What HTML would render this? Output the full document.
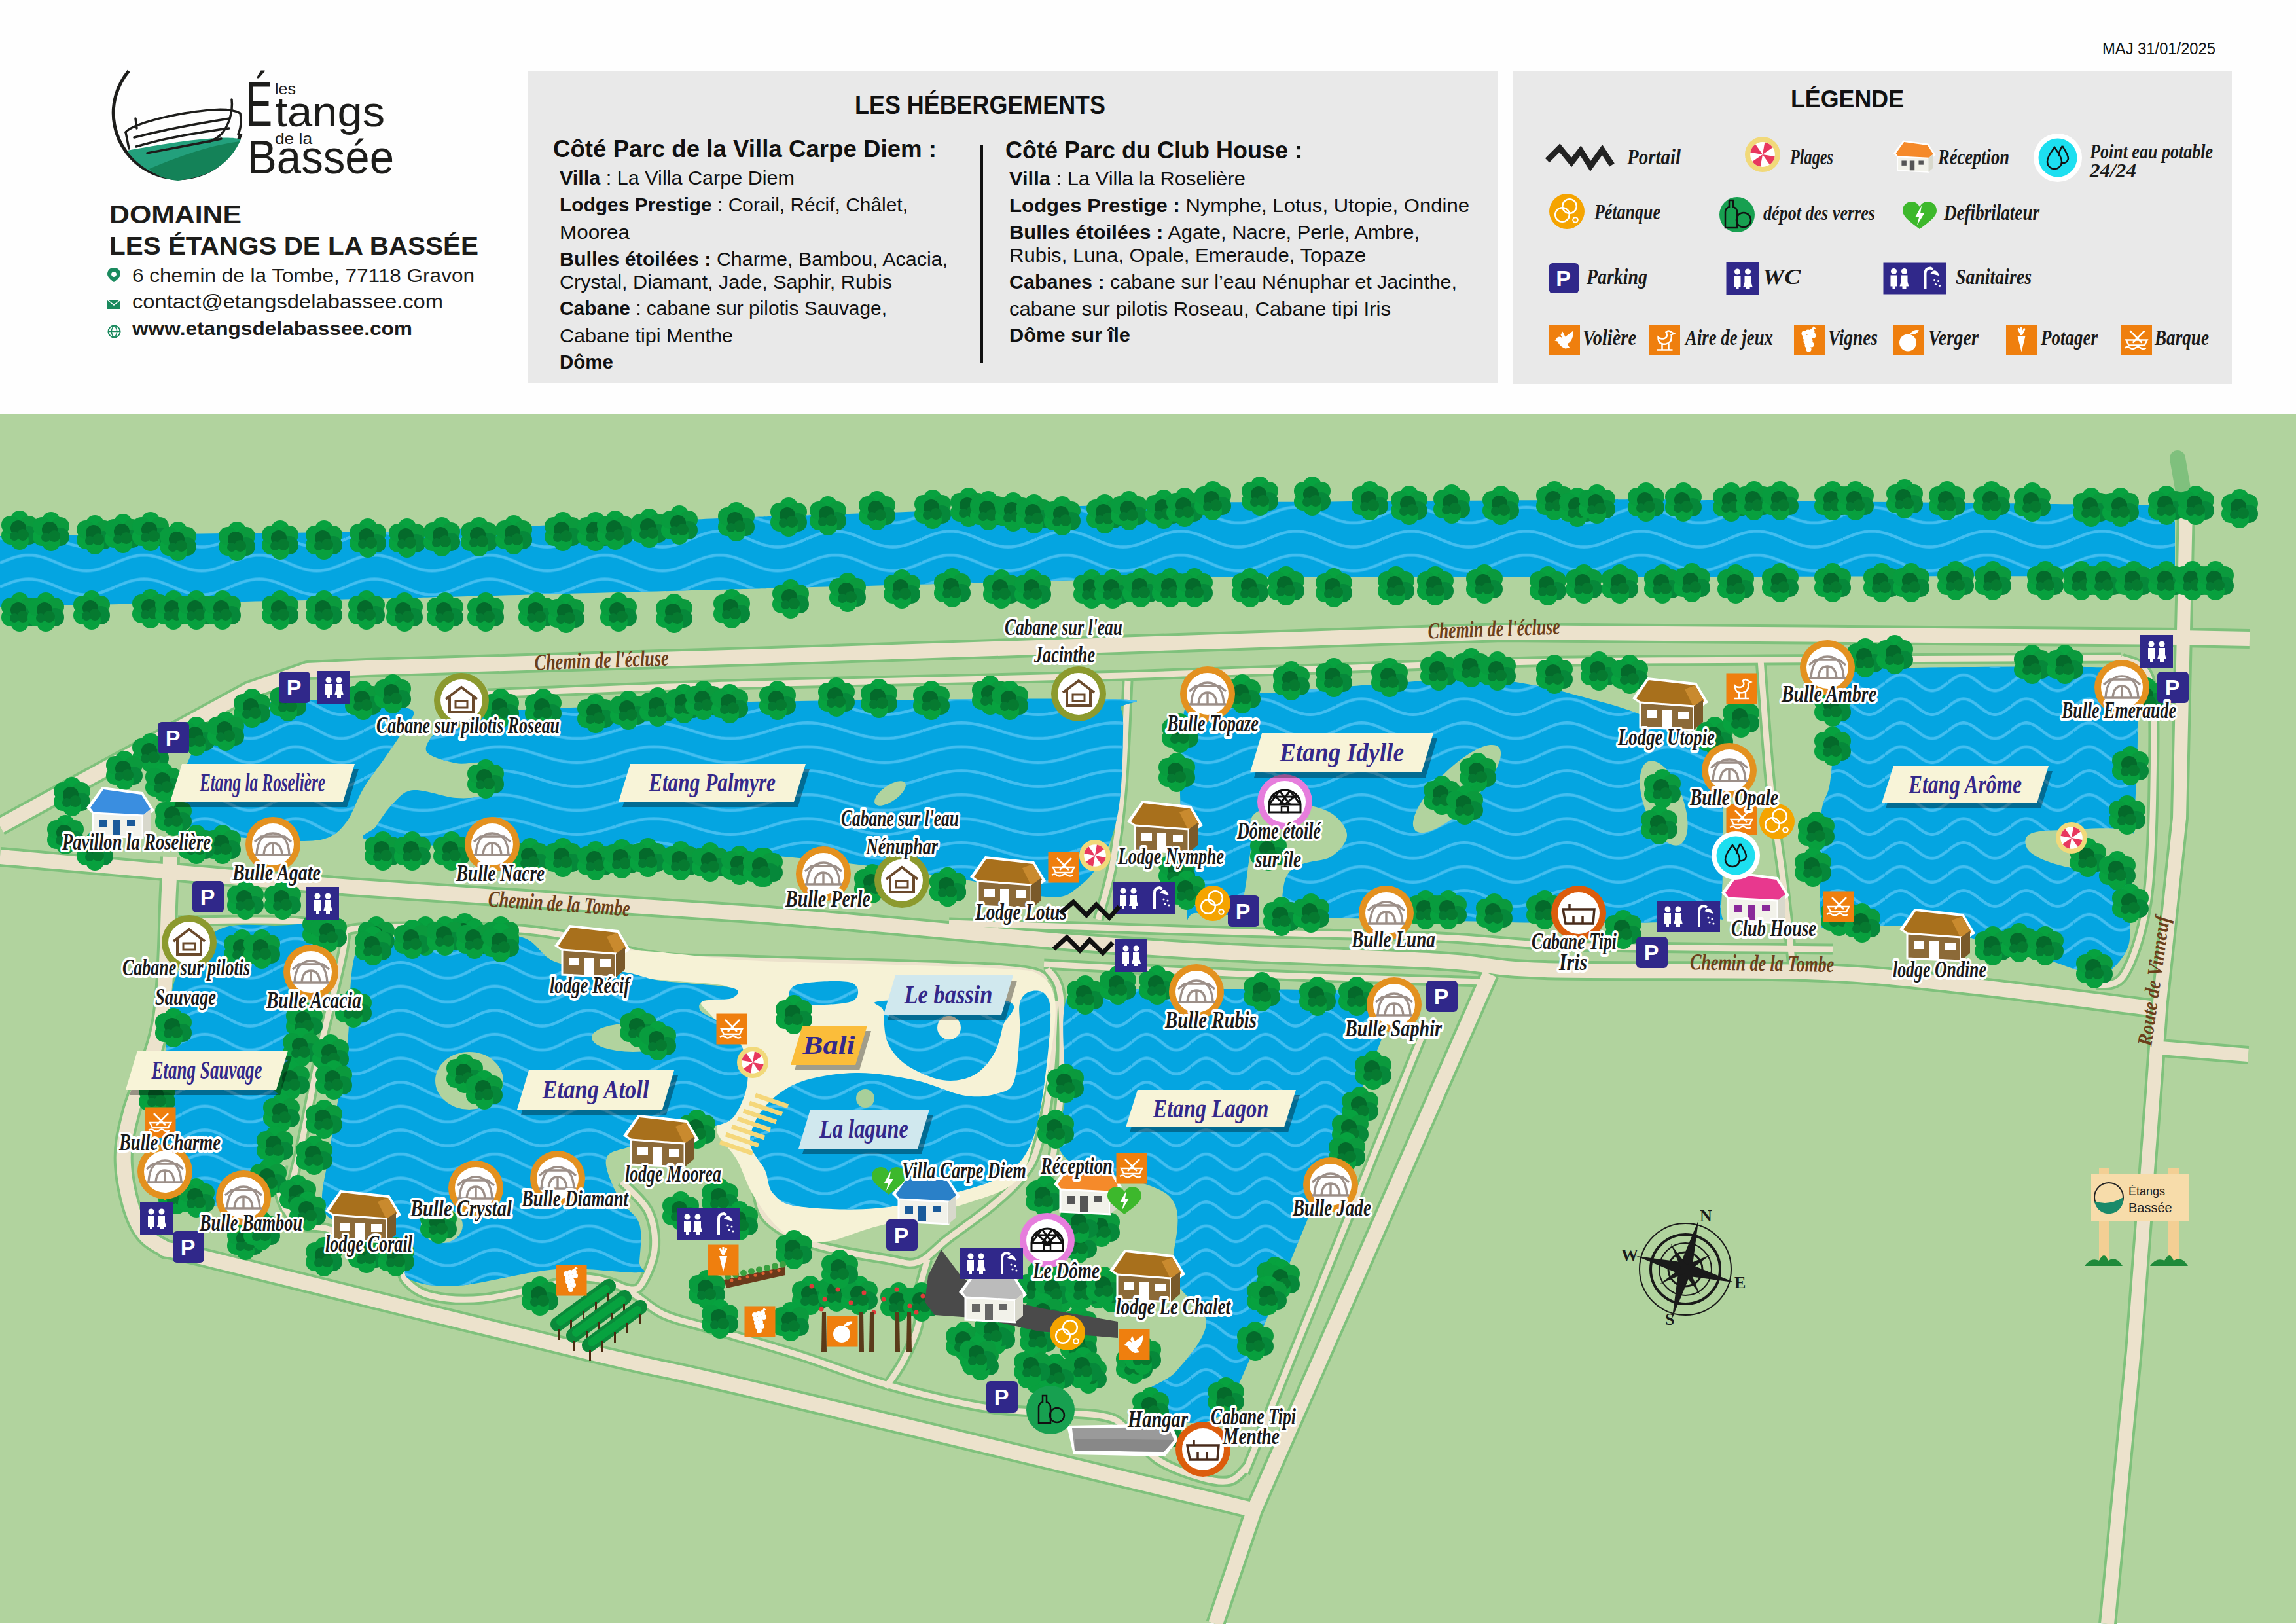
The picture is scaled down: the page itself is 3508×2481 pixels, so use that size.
<!DOCTYPE html>
<html><head><meta charset="utf-8"><title>Plan - Les Etangs de la Bassee</title>
<style>
html,body{margin:0;padding:0;background:#fefefe;}
body{width:3508px;height:2481px;overflow:hidden;position:relative;}
svg{display:block;position:absolute;left:0;top:0;}
.sans{font-family:"Liberation Sans",sans-serif;}
.scr{font-family:"Liberation Serif",serif;font-style:italic;font-weight:bold;}
</style></head><body>
<svg xmlns="http://www.w3.org/2000/svg" xmlns:xlink="http://www.w3.org/1999/xlink" width="3508" height="2481" viewBox="0 0 3508 2481">
<defs>
<pattern id="wv_river" patternUnits="userSpaceOnUse" width="176" height="36.6"><path d="M0.00,18.30 L5.50,15.96 L11.00,13.71 L16.50,11.63 L22.00,9.81 L27.50,8.32 L33.00,7.21 L38.50,6.53 L44.00,6.30 L49.50,6.53 L55.00,7.21 L60.50,8.32 L66.00,9.81 L71.50,11.63 L77.00,13.71 L82.50,15.96 L88.00,18.30 L93.50,20.64 L99.00,22.89 L104.50,24.97 L110.00,26.79 L115.50,28.28 L121.00,29.39 L126.50,30.07 L132.00,30.30 L137.50,30.07 L143.00,29.39 L148.50,28.28 L154.00,26.79 L159.50,24.97 L165.00,22.89 L170.50,20.64 L176.00,18.30" fill="none" stroke="#43bef0" stroke-width="4.5" stroke-linejoin="round"/></pattern><pattern id="wv_ros" patternUnits="userSpaceOnUse" width="139" height="36.6"><path d="M0.00,18.30 L4.34,15.96 L8.69,13.71 L13.03,11.63 L17.38,9.81 L21.72,8.32 L26.06,7.21 L30.41,6.53 L34.75,6.30 L39.09,6.53 L43.44,7.21 L47.78,8.32 L52.12,9.81 L56.47,11.63 L60.81,13.71 L65.16,15.96 L69.50,18.30 L73.84,20.64 L78.19,22.89 L82.53,24.97 L86.88,26.79 L91.22,28.28 L95.56,29.39 L99.91,30.07 L104.25,30.30 L108.59,30.07 L112.94,29.39 L117.28,28.28 L121.62,26.79 L125.97,24.97 L130.31,22.89 L134.66,20.64 L139.00,18.30" fill="none" stroke="#43bef0" stroke-width="4.5" stroke-linejoin="round"/></pattern><pattern id="wv_pal" patternUnits="userSpaceOnUse" width="235" height="36.6"><path d="M0.00,18.30 L7.34,15.96 L14.69,13.71 L22.03,11.63 L29.38,9.81 L36.72,8.32 L44.06,7.21 L51.41,6.53 L58.75,6.30 L66.09,6.53 L73.44,7.21 L80.78,8.32 L88.12,9.81 L95.47,11.63 L102.81,13.71 L110.16,15.96 L117.50,18.30 L124.84,20.64 L132.19,22.89 L139.53,24.97 L146.88,26.79 L154.22,28.28 L161.56,29.39 L168.91,30.07 L176.25,30.30 L183.59,30.07 L190.94,29.39 L198.28,28.28 L205.62,26.79 L212.97,24.97 L220.31,22.89 L227.66,20.64 L235.00,18.30" fill="none" stroke="#43bef0" stroke-width="4.5" stroke-linejoin="round"/></pattern><pattern id="wv_idy" patternUnits="userSpaceOnUse" width="157" height="36.6"><path d="M0.00,18.30 L4.91,15.96 L9.81,13.71 L14.72,11.63 L19.62,9.81 L24.53,8.32 L29.44,7.21 L34.34,6.53 L39.25,6.30 L44.16,6.53 L49.06,7.21 L53.97,8.32 L58.88,9.81 L63.78,11.63 L68.69,13.71 L73.59,15.96 L78.50,18.30 L83.41,20.64 L88.31,22.89 L93.22,24.97 L98.12,26.79 L103.03,28.28 L107.94,29.39 L112.84,30.07 L117.75,30.30 L122.66,30.07 L127.56,29.39 L132.47,28.28 L137.38,26.79 L142.28,24.97 L147.19,22.89 L152.09,20.64 L157.00,18.30" fill="none" stroke="#43bef0" stroke-width="4.5" stroke-linejoin="round"/></pattern><pattern id="wv_aro" patternUnits="userSpaceOnUse" width="96" height="36.6"><path d="M0.00,18.30 L3.00,15.96 L6.00,13.71 L9.00,11.63 L12.00,9.81 L15.00,8.32 L18.00,7.21 L21.00,6.53 L24.00,6.30 L27.00,6.53 L30.00,7.21 L33.00,8.32 L36.00,9.81 L39.00,11.63 L42.00,13.71 L45.00,15.96 L48.00,18.30 L51.00,20.64 L54.00,22.89 L57.00,24.97 L60.00,26.79 L63.00,28.28 L66.00,29.39 L69.00,30.07 L72.00,30.30 L75.00,30.07 L78.00,29.39 L81.00,28.28 L84.00,26.79 L87.00,24.97 L90.00,22.89 L93.00,20.64 L96.00,18.30" fill="none" stroke="#43bef0" stroke-width="4.5" stroke-linejoin="round"/></pattern><pattern id="wv_sau" patternUnits="userSpaceOnUse" width="139" height="36.6"><path d="M0.00,18.30 L4.34,15.96 L8.69,13.71 L13.03,11.63 L17.38,9.81 L21.72,8.32 L26.06,7.21 L30.41,6.53 L34.75,6.30 L39.09,6.53 L43.44,7.21 L47.78,8.32 L52.12,9.81 L56.47,11.63 L60.81,13.71 L65.16,15.96 L69.50,18.30 L73.84,20.64 L78.19,22.89 L82.53,24.97 L86.88,26.79 L91.22,28.28 L95.56,29.39 L99.91,30.07 L104.25,30.30 L108.59,30.07 L112.94,29.39 L117.28,28.28 L121.62,26.79 L125.97,24.97 L130.31,22.89 L134.66,20.64 L139.00,18.30" fill="none" stroke="#43bef0" stroke-width="4.5" stroke-linejoin="round"/></pattern><pattern id="wv_ato" patternUnits="userSpaceOnUse" width="144" height="36.6"><path d="M0.00,18.30 L4.50,15.96 L9.00,13.71 L13.50,11.63 L18.00,9.81 L22.50,8.32 L27.00,7.21 L31.50,6.53 L36.00,6.30 L40.50,6.53 L45.00,7.21 L49.50,8.32 L54.00,9.81 L58.50,11.63 L63.00,13.71 L67.50,15.96 L72.00,18.30 L76.50,20.64 L81.00,22.89 L85.50,24.97 L90.00,26.79 L94.50,28.28 L99.00,29.39 L103.50,30.07 L108.00,30.30 L112.50,30.07 L117.00,29.39 L121.50,28.28 L126.00,26.79 L130.50,24.97 L135.00,22.89 L139.50,20.64 L144.00,18.30" fill="none" stroke="#43bef0" stroke-width="4.5" stroke-linejoin="round"/></pattern><pattern id="wv_lag" patternUnits="userSpaceOnUse" width="144" height="36.6"><path d="M0.00,18.30 L4.50,15.96 L9.00,13.71 L13.50,11.63 L18.00,9.81 L22.50,8.32 L27.00,7.21 L31.50,6.53 L36.00,6.30 L40.50,6.53 L45.00,7.21 L49.50,8.32 L54.00,9.81 L58.50,11.63 L63.00,13.71 L67.50,15.96 L72.00,18.30 L76.50,20.64 L81.00,22.89 L85.50,24.97 L90.00,26.79 L94.50,28.28 L99.00,29.39 L103.50,30.07 L108.00,30.30 L112.50,30.07 L117.00,29.39 L121.50,28.28 L126.00,26.79 L130.50,24.97 L135.00,22.89 L139.50,20.64 L144.00,18.30" fill="none" stroke="#43bef0" stroke-width="4.5" stroke-linejoin="round"/></pattern><pattern id="wv_lgn" patternUnits="userSpaceOnUse" width="91" height="36.6"><path d="M0.00,18.30 L2.84,15.96 L5.69,13.71 L8.53,11.63 L11.38,9.81 L14.22,8.32 L17.06,7.21 L19.91,6.53 L22.75,6.30 L25.59,6.53 L28.44,7.21 L31.28,8.32 L34.12,9.81 L36.97,11.63 L39.81,13.71 L42.66,15.96 L45.50,18.30 L48.34,20.64 L51.19,22.89 L54.03,24.97 L56.88,26.79 L59.72,28.28 L62.56,29.39 L65.41,30.07 L68.25,30.30 L71.09,30.07 L73.94,29.39 L76.78,28.28 L79.62,26.79 L82.47,24.97 L85.31,22.89 L88.16,20.64 L91.00,18.30" fill="none" stroke="#43bef0" stroke-width="4.5" stroke-linejoin="round"/></pattern>
<g id="tr">
<circle cx="0" cy="-16" r="14" fill="#07a23f"/>
<circle cx="14" cy="-8" r="14" fill="#0b9a3d"/>
<circle cx="14" cy="8" r="14" fill="#06883a"/>
<circle cx="0" cy="16" r="14" fill="#08a03e"/>
<circle cx="-14" cy="8" r="14" fill="#07a23f"/>
<circle cx="-14" cy="-8" r="14" fill="#089c3e"/>
<circle cx="-2" cy="-3" r="12" fill="#046a2b"/>
<circle cx="5" cy="7" r="9" fill="#067a30"/>
<circle cx="-8" cy="9" r="7" fill="#057a32"/>
</g>
</defs>
<rect x="0" y="0" width="3508" height="632" fill="#fefefe"/>
<!-- logo -->
<g id="logo">
<path d="M196.7 108.3 A100 100 0 1 0 368 204.6" fill="none" stroke="#1d1d1b" stroke-width="5"/>
<path d="M194 230 C230 224 280 214 330 211 C350 210 362 211 368 213 A100 100 0 0 1 194 230 Z" fill="#23a07c"/>
<path d="M228 258 C270 240 320 222 366 216 C352 248 322 270 272 276 C252 274 238 268 228 258 Z" fill="#148258"/>
<g fill="none" stroke="#1d1d1b" stroke-width="3.5" stroke-linecap="round" stroke-linejoin="round">
<path d="M192 202 C200 192 240 180 282 173 C320 167 350 164 367 173 C369 185 368 196 364 205"/>
<path d="M192 202 L197 227"/>
<path d="M207 181 L209 196"/>
<path d="M354 152 C356 170 350 192 338 205 C332 211 326 214 321 216"/>
<path d="M205 210 C240 201 280 192 351 181"/>
<path d="M208 224 C240 215 270 207 350 196"/>
<path d="M225 234 C250 229 290 222 338 212"/>
</g>
<text class="sans" x="376" y="193" font-size="98" fill="#1d1d1b" textLength="40" lengthAdjust="spacingAndGlyphs">É</text>
<text class="sans" x="420" y="193" font-size="64" fill="#1d1d1b" textLength="168" lengthAdjust="spacingAndGlyphs">tangs</text>
<text class="sans" x="420" y="144" font-size="24" fill="#1d1d1b" textLength="32" lengthAdjust="spacingAndGlyphs">les</text>
<text class="sans" x="420" y="220" font-size="24" fill="#1d1d1b" textLength="57" lengthAdjust="spacingAndGlyphs">de la</text>
<text class="sans" x="378" y="265" font-size="72" fill="#1d1d1b" textLength="224" lengthAdjust="spacingAndGlyphs">Bassée</text>
</g>
<g class="sans" fill="#1d1d1b">
<text x="167" y="341" font-size="38" font-weight="bold" textLength="202" lengthAdjust="spacingAndGlyphs">DOMAINE</text>
<text x="167" y="389" font-size="38" font-weight="bold" textLength="564" lengthAdjust="spacingAndGlyphs">LES ÉTANGS DE LA BASSÉE</text>
<text x="202" y="431" font-size="29" textLength="523" lengthAdjust="spacingAndGlyphs">6 chemin de la Tombe, 77118 Gravon</text>
<text x="202" y="471" font-size="29" textLength="475" lengthAdjust="spacingAndGlyphs">contact@etangsdelabassee.com</text>
<text x="202" y="512" font-size="29" font-weight="bold" textLength="428" lengthAdjust="spacingAndGlyphs">www.etangsdelabassee.com</text>
</g>
<g fill="#1a8a5e">
<path d="M174 409 C166 409 164 415 164 419 C164 424 174 431 174 431 C174 431 184 424 184 419 C184 415 182 409 174 409 Z M174 415 A4 4 0 1 0 174.01 415 Z" fill-rule="evenodd"/>
<rect x="164" y="458" width="20" height="14"/>
<path d="M164 458 L174 466 L184 458" stroke="#fff" stroke-width="1.5" fill="none"/>
<circle cx="174.5" cy="506.5" r="9" fill="none" stroke="#1a8a5e" stroke-width="2"/>
<path d="M165.5 506.5 H183.5 M174.5 497.5 C169 502 169 511 174.5 515.5 C180 511 180 502 174.5 497.5" fill="none" stroke="#1a8a5e" stroke-width="1.5"/>
</g>
<text class="sans" x="3212" y="83" font-size="26" fill="#111" textLength="173" lengthAdjust="spacingAndGlyphs">MAJ 31/01/2025</text>
<!-- box 1 -->
<rect x="807" y="109" width="1481" height="476" fill="#e9e9e9"/>
<g class="sans" fill="#111">
<text x="1306" y="173.5" font-size="40" font-weight="bold" textLength="383" lengthAdjust="spacingAndGlyphs">LES HÉBERGEMENTS</text>
<text x="845" y="239.5" font-size="36" font-weight="bold" textLength="586" lengthAdjust="spacingAndGlyphs">Côté Parc de la Villa Carpe Diem :</text>
<g font-size="30">
<text x="855" y="282" textLength="359" lengthAdjust="spacingAndGlyphs"><tspan font-weight="bold">Villa</tspan> : La Villa Carpe Diem</text>
<text x="855" y="323" textLength="532" lengthAdjust="spacingAndGlyphs"><tspan font-weight="bold">Lodges Prestige</tspan> : Corail, Récif, Châlet,</text>
<text x="855" y="364.5" textLength="107" lengthAdjust="spacingAndGlyphs">Moorea</text>
<text x="855" y="405.5" textLength="593" lengthAdjust="spacingAndGlyphs"><tspan font-weight="bold">Bulles étoilées :</tspan> Charme, Bambou, Acacia,</text>
<text x="855" y="441" textLength="508" lengthAdjust="spacingAndGlyphs">Crystal, Diamant, Jade, Saphir, Rubis</text>
<text x="855" y="481" textLength="500" lengthAdjust="spacingAndGlyphs"><tspan font-weight="bold">Cabane</tspan> : cabane sur pilotis Sauvage,</text>
<text x="855" y="523" textLength="265" lengthAdjust="spacingAndGlyphs">Cabane tipi Menthe</text>
<text x="855" y="563" font-weight="bold" textLength="82" lengthAdjust="spacingAndGlyphs">Dôme</text>
</g>
<rect x="1498" y="222" width="4" height="333"/>
<text x="1536" y="241.5" font-size="36" font-weight="bold" textLength="454" lengthAdjust="spacingAndGlyphs">Côté Parc du Club House :</text>
<g font-size="30">
<text x="1542" y="283" textLength="361" lengthAdjust="spacingAndGlyphs"><tspan font-weight="bold">Villa</tspan> : La Villa la Roselière</text>
<text x="1542" y="324" textLength="703" lengthAdjust="spacingAndGlyphs"><tspan font-weight="bold">Lodges Prestige :</tspan> Nymphe, Lotus, Utopie, Ondine</text>
<text x="1542" y="365" textLength="627" lengthAdjust="spacingAndGlyphs"><tspan font-weight="bold">Bulles étoilées :</tspan> Agate, Nacre, Perle, Ambre,</text>
<text x="1542" y="400" textLength="545" lengthAdjust="spacingAndGlyphs">Rubis, Luna, Opale, Emeraude, Topaze</text>
<text x="1542" y="441" textLength="684" lengthAdjust="spacingAndGlyphs"><tspan font-weight="bold">Cabanes :</tspan> cabane sur l’eau Nénuphar et Jacinthe,</text>
<text x="1542" y="482" textLength="583" lengthAdjust="spacingAndGlyphs">cabane sur pilotis Roseau, Cabane tipi Iris</text>
<text x="1542" y="522" font-weight="bold" textLength="185" lengthAdjust="spacingAndGlyphs">Dôme sur île</text>
</g>
</g>
<!-- legend -->
<rect x="2312" y="109" width="1098" height="477" fill="#e9e9e9"/>
<text class="sans" x="2736" y="163.7" font-size="37" font-weight="bold" fill="#111" textLength="173" lengthAdjust="spacingAndGlyphs">LÉGENDE</text>
<rect x="0" y="632" width="3508" height="1848" fill="#b1d39e"/>
<path d="M3327,700 L3340,775" stroke="#7fc07d" stroke-width="24" stroke-linecap="round"/>
<path d="M0.0,819.0 C0.0,819.0 600.0,812.0 600.0,812.0 C600.0,812.0 1175.0,789.0 1175.0,789.0 C1175.0,789.0 1800.0,768.0 1800.0,768.0 C1800.0,768.0 2519.0,763.0 2519.0,763.0 C2519.0,763.0 3323.0,772.0 3323.0,772.0 C3323.0,772.0 3323.0,880.0 3323.0,880.0 C3323.0,880.0 2519.0,881.0 2519.0,881.0 C2519.0,881.0 1800.0,882.0 1800.0,882.0 C1800.0,882.0 1175.0,899.0 1175.0,899.0 C1175.0,899.0 600.0,914.0 600.0,914.0 C600.0,914.0 0.0,927.0 0.0,927.0 C0.0,927.0 0.0,819.0 0.0,819.0Z" fill="#04a5e1"/>
<path d="M0.0,819.0 C0.0,819.0 600.0,812.0 600.0,812.0 C600.0,812.0 1175.0,789.0 1175.0,789.0 C1175.0,789.0 1800.0,768.0 1800.0,768.0 C1800.0,768.0 2519.0,763.0 2519.0,763.0 C2519.0,763.0 3323.0,772.0 3323.0,772.0 C3323.0,772.0 3323.0,880.0 3323.0,880.0 C3323.0,880.0 2519.0,881.0 2519.0,881.0 C2519.0,881.0 1800.0,882.0 1800.0,882.0 C1800.0,882.0 1175.0,899.0 1175.0,899.0 C1175.0,899.0 600.0,914.0 600.0,914.0 C600.0,914.0 0.0,927.0 0.0,927.0 C0.0,927.0 0.0,819.0 0.0,819.0Z" fill="url(#wv_river)"/>
<path d="M0.0,1262.0 C0.0,1262.0 380.0,1055.0 380.0,1055.0 C380.0,1055.0 470.0,1024.0 470.0,1024.0 C470.0,1024.0 560.0,1020.0 560.0,1020.0 C560.0,1020.0 1148.0,1003.0 1148.0,1003.0 C1148.0,1003.0 2296.0,966.0 2296.0,966.0 C2296.0,966.0 3330.0,974.0 3330.0,974.0 C3330.0,974.0 3437.0,976.0 3437.0,976.0" fill="none" stroke="#7fc17c" stroke-width="30" stroke-linejoin="round"/>
<path d="M0.0,1309.0 C91.7,1316.8 358.7,1341.5 550.0,1356.0 C741.3,1370.5 964.7,1382.0 1148.0,1396.0 C1331.3,1410.0 1524.7,1430.0 1650.0,1440.0 C1775.3,1450.0 1808.3,1451.3 1900.0,1456.0 C1991.7,1460.7 2123.3,1463.7 2200.0,1468.0 C2276.7,1472.3 2266.7,1479.2 2360.0,1482.0 C2453.3,1484.8 2653.3,1481.2 2760.0,1485.0 C2866.7,1488.8 2912.5,1495.8 3000.0,1505.0 C3087.5,1514.2 3237.5,1534.2 3285.0,1540.0" fill="none" stroke="#7fc17c" stroke-width="30" stroke-linejoin="round"/>
<path d="M3340.0,775.0 C3340.0,775.0 3330.0,1250.0 3330.0,1250.0 C3330.0,1250.0 3300.0,1530.0 3300.0,1530.0 C3300.0,1530.0 3290.0,1669.0 3290.0,1669.0 C3290.0,1669.0 3260.0,2064.0 3260.0,2064.0 C3260.0,2064.0 3220.0,2481.0 3220.0,2481.0" fill="none" stroke="#7fc17c" stroke-width="28" stroke-linejoin="round"/>
<path d="M3290,1600 L3435,1612" fill="none" stroke="#7fc17c" stroke-width="28" stroke-linejoin="round"/>
<path d="M260.0,1309.0 C259.7,1317.5 260.3,1318.2 258.0,1360.0 C255.7,1401.8 255.7,1503.3 246.0,1560.0 C236.3,1616.7 209.5,1663.3 200.0,1700.0 C190.5,1736.7 187.5,1752.3 189.0,1780.0 C190.5,1807.7 199.2,1845.2 209.0,1866.0 C218.8,1886.8 228.5,1895.2 248.0,1905.0 C267.5,1914.8 217.3,1898.2 326.0,1925.0 C434.7,1951.8 763.0,2033.2 900.0,2066.0 C1037.0,2098.8 978.7,2081.8 1148.0,2122.0 C1317.3,2162.2 1788.0,2276.2 1916.0,2307.0" fill="none" stroke="#7fc17c" stroke-width="30" stroke-linejoin="round"/>
<path d="M2276.0,1488.0 C2276.0,1488.0 1916.0,2307.0 1916.0,2307.0 C1916.0,2307.0 1857.0,2481.0 1857.0,2481.0" fill="none" stroke="#7fc17c" stroke-width="30" stroke-linejoin="round"/>
<path d="M745.0,1060.0 C812.2,1057.5 985.8,1049.7 1148.0,1045.0 C1310.2,1040.3 1526.7,1037.5 1718.0,1032.0 C1909.3,1026.5 2132.3,1016.0 2296.0,1012.0 C2459.7,1008.0 2542.7,1009.2 2700.0,1008.0 C2857.3,1006.8 3150.0,1005.5 3240.0,1005.0" fill="none" stroke="#7fc17c" stroke-width="17" stroke-linejoin="round"/>
<path d="M1723.0,1040.0 C1721.7,1066.7 1718.8,1153.3 1715.0,1200.0 C1711.2,1246.7 1706.2,1285.8 1700.0,1320.0 C1693.8,1354.2 1681.7,1390.8 1678.0,1405.0" fill="none" stroke="#7fc17c" stroke-width="17" stroke-linejoin="round"/>
<path d="M2690.0,1008.0 C2692.5,1040.0 2699.2,1143.0 2705.0,1200.0 C2710.8,1257.0 2719.2,1302.5 2725.0,1350.0 C2730.8,1397.5 2737.5,1462.5 2740.0,1485.0" fill="none" stroke="#7fc17c" stroke-width="17" stroke-linejoin="round"/>
<path d="M3240.0,1005.0 C3247.5,1010.8 3276.7,1007.5 3285.0,1040.0 C3293.3,1072.5 3290.8,1143.3 3290.0,1200.0 C3289.2,1256.7 3287.5,1331.7 3280.0,1380.0 C3272.5,1428.3 3258.3,1469.2 3245.0,1490.0 C3231.7,1510.8 3207.5,1502.5 3200.0,1505.0" fill="none" stroke="#7fc17c" stroke-width="17" stroke-linejoin="round"/>
<path d="M272.0,1407.0 C300.7,1407.0 403.8,1404.7 444.0,1407.0 C484.2,1409.3 499.2,1416.8 513.0,1421.0 C526.8,1425.2 526.8,1419.0 527.0,1432.0 C527.2,1445.0 520.2,1471.0 514.0,1499.0 C507.8,1527.0 499.0,1558.2 490.0,1600.0 C481.0,1641.8 469.2,1708.3 460.0,1750.0 C450.8,1791.7 439.2,1833.3 435.0,1850.0" fill="none" stroke="#7fc17c" stroke-width="17" stroke-linejoin="round"/>
<path d="M527.0,1432.0 C530.5,1429.7 515.3,1420.5 548.0,1418.0 C580.7,1415.5 673.5,1415.7 723.0,1417.0 C772.5,1418.3 798.8,1418.7 845.0,1426.0 C891.2,1433.3 950.5,1454.2 1000.0,1461.0 C1049.5,1467.8 1053.0,1463.8 1142.0,1467.0 C1231.0,1470.2 1457.7,1474.5 1534.0,1480.0 C1610.3,1485.5 1589.0,1496.7 1600.0,1500.0" fill="none" stroke="#7fc17c" stroke-width="17" stroke-linejoin="round"/>
<path d="M432.0,1780.0 C431.3,1787.8 424.0,1812.0 428.0,1827.0 C432.0,1842.0 443.5,1861.5 456.0,1870.0 C468.5,1878.5 478.8,1870.2 503.0,1878.0 C527.2,1885.8 581.5,1904.0 601.0,1917.0 C620.5,1930.0 610.2,1945.5 620.0,1956.0 C629.8,1966.5 640.3,1975.3 660.0,1980.0 C679.7,1984.7 708.7,1986.7 738.0,1984.0 C767.3,1981.3 809.8,1969.3 836.0,1964.0 C862.2,1958.7 875.3,1951.3 895.0,1952.0 C914.7,1952.7 934.5,1958.8 954.0,1968.0 C973.5,1977.2 990.5,1996.8 1012.0,2007.0 C1033.5,2017.2 1048.3,2018.5 1083.0,2029.0 C1117.7,2039.5 1174.3,2055.5 1220.0,2070.0 C1265.7,2084.5 1307.5,2102.3 1357.0,2116.0 C1406.5,2129.7 1463.7,2144.3 1517.0,2152.0 C1570.3,2159.7 1642.7,2156.7 1677.0,2162.0 C1711.3,2167.3 1707.7,2172.7 1723.0,2184.0 C1738.3,2195.3 1750.0,2217.7 1769.0,2230.0 C1788.0,2242.3 1818.5,2252.7 1837.0,2258.0 C1855.5,2263.3 1868.5,2265.0 1880.0,2262.0 C1891.5,2259.0 1901.7,2243.7 1906.0,2240.0" fill="none" stroke="#7fc17c" stroke-width="17" stroke-linejoin="round"/>
<path d="M950.0,1805.0 C956.8,1812.7 982.7,1833.5 991.0,1851.0 C999.3,1868.5 1002.2,1891.0 1000.0,1910.0 C997.8,1929.0 985.7,1955.3 978.0,1965.0 C970.3,1974.7 958.0,1967.5 954.0,1968.0" fill="none" stroke="#7fc17c" stroke-width="17" stroke-linejoin="round"/>
<path d="M1156.0,1819.0 C1159.0,1826.5 1159.5,1850.3 1174.0,1864.0 C1188.5,1877.7 1212.5,1891.0 1243.0,1901.0 C1273.5,1911.0 1330.3,1919.5 1357.0,1924.0 C1383.7,1928.5 1387.7,1933.3 1403.0,1928.0 C1418.3,1922.7 1430.0,1906.5 1449.0,1892.0 C1468.0,1877.5 1498.0,1857.0 1517.0,1841.0 C1536.0,1825.0 1551.5,1811.2 1563.0,1796.0 C1574.5,1780.8 1579.0,1774.3 1586.0,1750.0 C1593.0,1725.7 1600.7,1686.8 1605.0,1650.0 C1609.3,1613.2 1610.8,1549.2 1612.0,1529.0" fill="none" stroke="#7fc17c" stroke-width="17" stroke-linejoin="round"/>
<path d="M1417.0,1924.0 C1414.7,1933.2 1405.3,1962.3 1403.0,1979.0 C1400.7,1995.7 1406.8,2007.3 1403.0,2024.0 C1399.2,2040.7 1388.3,2063.0 1380.0,2079.0 C1371.7,2095.0 1357.5,2113.2 1353.0,2120.0" fill="none" stroke="#7fc17c" stroke-width="17" stroke-linejoin="round"/>
<path d="M1450.0,1410.0 C1525.0,1412.3 1775.0,1420.3 1900.0,1424.0 C2025.0,1427.7 2116.7,1428.5 2200.0,1432.0 C2283.3,1435.5 2300.0,1442.0 2400.0,1445.0 C2500.0,1448.0 2733.3,1449.2 2800.0,1450.0" fill="none" stroke="#7fc17c" stroke-width="17" stroke-linejoin="round"/>
<path d="M1595.0,1473.0 C1645.8,1475.5 1799.2,1483.8 1900.0,1488.0 C2000.8,1492.2 2137.3,1496.0 2200.0,1498.0 C2262.7,1500.0 2263.3,1499.7 2276.0,1500.0" fill="none" stroke="#7fc17c" stroke-width="17" stroke-linejoin="round"/>
<path d="M1600.0,1480.0 C1603.3,1486.7 1616.3,1491.7 1620.0,1520.0 C1623.7,1548.3 1623.7,1610.0 1622.0,1650.0 C1620.3,1690.0 1613.7,1733.3 1610.0,1760.0 C1606.3,1786.7 1601.7,1801.7 1600.0,1810.0" fill="none" stroke="#7fc17c" stroke-width="17" stroke-linejoin="round"/>
<path d="M2175,1577 L1902,2250" fill="none" stroke="#7fc17c" stroke-width="17" stroke-linejoin="round"/>
<path d="M0.0,1262.0 C0.0,1262.0 380.0,1055.0 380.0,1055.0 C380.0,1055.0 470.0,1024.0 470.0,1024.0 C470.0,1024.0 560.0,1020.0 560.0,1020.0 C560.0,1020.0 1148.0,1003.0 1148.0,1003.0 C1148.0,1003.0 2296.0,966.0 2296.0,966.0 C2296.0,966.0 3330.0,974.0 3330.0,974.0 C3330.0,974.0 3437.0,976.0 3437.0,976.0" fill="none" stroke="#ece2cc" stroke-width="22" stroke-linejoin="round"/>
<path d="M0.0,1309.0 C91.7,1316.8 358.7,1341.5 550.0,1356.0 C741.3,1370.5 964.7,1382.0 1148.0,1396.0 C1331.3,1410.0 1524.7,1430.0 1650.0,1440.0 C1775.3,1450.0 1808.3,1451.3 1900.0,1456.0 C1991.7,1460.7 2123.3,1463.7 2200.0,1468.0 C2276.7,1472.3 2266.7,1479.2 2360.0,1482.0 C2453.3,1484.8 2653.3,1481.2 2760.0,1485.0 C2866.7,1488.8 2912.5,1495.8 3000.0,1505.0 C3087.5,1514.2 3237.5,1534.2 3285.0,1540.0" fill="none" stroke="#ece2cc" stroke-width="22" stroke-linejoin="round"/>
<path d="M3340.0,775.0 C3340.0,775.0 3330.0,1250.0 3330.0,1250.0 C3330.0,1250.0 3300.0,1530.0 3300.0,1530.0 C3300.0,1530.0 3290.0,1669.0 3290.0,1669.0 C3290.0,1669.0 3260.0,2064.0 3260.0,2064.0 C3260.0,2064.0 3220.0,2481.0 3220.0,2481.0" fill="none" stroke="#ece2cc" stroke-width="20" stroke-linejoin="round"/>
<path d="M3290,1600 L3435,1612" fill="none" stroke="#ece2cc" stroke-width="20" stroke-linejoin="round"/>
<path d="M260.0,1309.0 C259.7,1317.5 260.3,1318.2 258.0,1360.0 C255.7,1401.8 255.7,1503.3 246.0,1560.0 C236.3,1616.7 209.5,1663.3 200.0,1700.0 C190.5,1736.7 187.5,1752.3 189.0,1780.0 C190.5,1807.7 199.2,1845.2 209.0,1866.0 C218.8,1886.8 228.5,1895.2 248.0,1905.0 C267.5,1914.8 217.3,1898.2 326.0,1925.0 C434.7,1951.8 763.0,2033.2 900.0,2066.0 C1037.0,2098.8 978.7,2081.8 1148.0,2122.0 C1317.3,2162.2 1788.0,2276.2 1916.0,2307.0" fill="none" stroke="#ece2cc" stroke-width="22" stroke-linejoin="round"/>
<path d="M2276.0,1488.0 C2276.0,1488.0 1916.0,2307.0 1916.0,2307.0 C1916.0,2307.0 1857.0,2481.0 1857.0,2481.0" fill="none" stroke="#ece2cc" stroke-width="22" stroke-linejoin="round"/>
<path d="M745.0,1060.0 C812.2,1057.5 985.8,1049.7 1148.0,1045.0 C1310.2,1040.3 1526.7,1037.5 1718.0,1032.0 C1909.3,1026.5 2132.3,1016.0 2296.0,1012.0 C2459.7,1008.0 2542.7,1009.2 2700.0,1008.0 C2857.3,1006.8 3150.0,1005.5 3240.0,1005.0" fill="none" stroke="#ece2cc" stroke-width="9" stroke-linejoin="round"/>
<path d="M1723.0,1040.0 C1721.7,1066.7 1718.8,1153.3 1715.0,1200.0 C1711.2,1246.7 1706.2,1285.8 1700.0,1320.0 C1693.8,1354.2 1681.7,1390.8 1678.0,1405.0" fill="none" stroke="#ece2cc" stroke-width="9" stroke-linejoin="round"/>
<path d="M2690.0,1008.0 C2692.5,1040.0 2699.2,1143.0 2705.0,1200.0 C2710.8,1257.0 2719.2,1302.5 2725.0,1350.0 C2730.8,1397.5 2737.5,1462.5 2740.0,1485.0" fill="none" stroke="#ece2cc" stroke-width="9" stroke-linejoin="round"/>
<path d="M3240.0,1005.0 C3247.5,1010.8 3276.7,1007.5 3285.0,1040.0 C3293.3,1072.5 3290.8,1143.3 3290.0,1200.0 C3289.2,1256.7 3287.5,1331.7 3280.0,1380.0 C3272.5,1428.3 3258.3,1469.2 3245.0,1490.0 C3231.7,1510.8 3207.5,1502.5 3200.0,1505.0" fill="none" stroke="#ece2cc" stroke-width="9" stroke-linejoin="round"/>
<path d="M272.0,1407.0 C300.7,1407.0 403.8,1404.7 444.0,1407.0 C484.2,1409.3 499.2,1416.8 513.0,1421.0 C526.8,1425.2 526.8,1419.0 527.0,1432.0 C527.2,1445.0 520.2,1471.0 514.0,1499.0 C507.8,1527.0 499.0,1558.2 490.0,1600.0 C481.0,1641.8 469.2,1708.3 460.0,1750.0 C450.8,1791.7 439.2,1833.3 435.0,1850.0" fill="none" stroke="#ece2cc" stroke-width="9" stroke-linejoin="round"/>
<path d="M527.0,1432.0 C530.5,1429.7 515.3,1420.5 548.0,1418.0 C580.7,1415.5 673.5,1415.7 723.0,1417.0 C772.5,1418.3 798.8,1418.7 845.0,1426.0 C891.2,1433.3 950.5,1454.2 1000.0,1461.0 C1049.5,1467.8 1053.0,1463.8 1142.0,1467.0 C1231.0,1470.2 1457.7,1474.5 1534.0,1480.0 C1610.3,1485.5 1589.0,1496.7 1600.0,1500.0" fill="none" stroke="#ece2cc" stroke-width="9" stroke-linejoin="round"/>
<path d="M432.0,1780.0 C431.3,1787.8 424.0,1812.0 428.0,1827.0 C432.0,1842.0 443.5,1861.5 456.0,1870.0 C468.5,1878.5 478.8,1870.2 503.0,1878.0 C527.2,1885.8 581.5,1904.0 601.0,1917.0 C620.5,1930.0 610.2,1945.5 620.0,1956.0 C629.8,1966.5 640.3,1975.3 660.0,1980.0 C679.7,1984.7 708.7,1986.7 738.0,1984.0 C767.3,1981.3 809.8,1969.3 836.0,1964.0 C862.2,1958.7 875.3,1951.3 895.0,1952.0 C914.7,1952.7 934.5,1958.8 954.0,1968.0 C973.5,1977.2 990.5,1996.8 1012.0,2007.0 C1033.5,2017.2 1048.3,2018.5 1083.0,2029.0 C1117.7,2039.5 1174.3,2055.5 1220.0,2070.0 C1265.7,2084.5 1307.5,2102.3 1357.0,2116.0 C1406.5,2129.7 1463.7,2144.3 1517.0,2152.0 C1570.3,2159.7 1642.7,2156.7 1677.0,2162.0 C1711.3,2167.3 1707.7,2172.7 1723.0,2184.0 C1738.3,2195.3 1750.0,2217.7 1769.0,2230.0 C1788.0,2242.3 1818.5,2252.7 1837.0,2258.0 C1855.5,2263.3 1868.5,2265.0 1880.0,2262.0 C1891.5,2259.0 1901.7,2243.7 1906.0,2240.0" fill="none" stroke="#ece2cc" stroke-width="9" stroke-linejoin="round"/>
<path d="M950.0,1805.0 C956.8,1812.7 982.7,1833.5 991.0,1851.0 C999.3,1868.5 1002.2,1891.0 1000.0,1910.0 C997.8,1929.0 985.7,1955.3 978.0,1965.0 C970.3,1974.7 958.0,1967.5 954.0,1968.0" fill="none" stroke="#ece2cc" stroke-width="9" stroke-linejoin="round"/>
<path d="M1156.0,1819.0 C1159.0,1826.5 1159.5,1850.3 1174.0,1864.0 C1188.5,1877.7 1212.5,1891.0 1243.0,1901.0 C1273.5,1911.0 1330.3,1919.5 1357.0,1924.0 C1383.7,1928.5 1387.7,1933.3 1403.0,1928.0 C1418.3,1922.7 1430.0,1906.5 1449.0,1892.0 C1468.0,1877.5 1498.0,1857.0 1517.0,1841.0 C1536.0,1825.0 1551.5,1811.2 1563.0,1796.0 C1574.5,1780.8 1579.0,1774.3 1586.0,1750.0 C1593.0,1725.7 1600.7,1686.8 1605.0,1650.0 C1609.3,1613.2 1610.8,1549.2 1612.0,1529.0" fill="none" stroke="#ece2cc" stroke-width="9" stroke-linejoin="round"/>
<path d="M1417.0,1924.0 C1414.7,1933.2 1405.3,1962.3 1403.0,1979.0 C1400.7,1995.7 1406.8,2007.3 1403.0,2024.0 C1399.2,2040.7 1388.3,2063.0 1380.0,2079.0 C1371.7,2095.0 1357.5,2113.2 1353.0,2120.0" fill="none" stroke="#ece2cc" stroke-width="9" stroke-linejoin="round"/>
<path d="M1450.0,1410.0 C1525.0,1412.3 1775.0,1420.3 1900.0,1424.0 C2025.0,1427.7 2116.7,1428.5 2200.0,1432.0 C2283.3,1435.5 2300.0,1442.0 2400.0,1445.0 C2500.0,1448.0 2733.3,1449.2 2800.0,1450.0" fill="none" stroke="#ece2cc" stroke-width="9" stroke-linejoin="round"/>
<path d="M1595.0,1473.0 C1645.8,1475.5 1799.2,1483.8 1900.0,1488.0 C2000.8,1492.2 2137.3,1496.0 2200.0,1498.0 C2262.7,1500.0 2263.3,1499.7 2276.0,1500.0" fill="none" stroke="#ece2cc" stroke-width="9" stroke-linejoin="round"/>
<path d="M1600.0,1480.0 C1603.3,1486.7 1616.3,1491.7 1620.0,1520.0 C1623.7,1548.3 1623.7,1610.0 1622.0,1650.0 C1620.3,1690.0 1613.7,1733.3 1610.0,1760.0 C1606.3,1786.7 1601.7,1801.7 1600.0,1810.0" fill="none" stroke="#ece2cc" stroke-width="9" stroke-linejoin="round"/>
<path d="M2175,1577 L1902,2250" fill="none" stroke="#ece2cc" stroke-width="9" stroke-linejoin="round"/>
<path d="M954.0,1453.0 C984.7,1449.2 1078.0,1463.7 1142.0,1467.0 C1206.0,1470.3 1272.7,1470.8 1338.0,1473.0 C1403.3,1475.2 1492.2,1477.2 1534.0,1480.0 C1575.8,1482.8 1576.0,1481.8 1589.0,1490.0 C1602.0,1498.2 1609.3,1508.2 1612.0,1529.0 C1614.7,1549.8 1610.2,1581.0 1605.0,1615.0 C1599.8,1649.0 1589.5,1701.7 1581.0,1733.0 C1572.5,1764.3 1571.7,1785.3 1554.0,1803.0 C1536.3,1820.7 1511.0,1827.2 1475.0,1839.0 C1439.0,1850.8 1373.8,1864.3 1338.0,1874.0 C1302.2,1883.7 1282.8,1895.2 1260.0,1897.0 C1237.2,1898.8 1218.7,1896.0 1201.0,1885.0 C1183.3,1874.0 1166.5,1849.8 1154.0,1831.0 C1141.5,1812.2 1135.8,1789.7 1126.0,1772.0 C1116.2,1754.3 1095.0,1739.3 1095.0,1725.0 C1095.0,1710.7 1118.2,1701.0 1126.0,1686.0 C1133.8,1671.0 1142.0,1649.3 1142.0,1635.0 C1142.0,1620.7 1134.5,1613.2 1126.0,1600.0 C1117.5,1586.8 1100.2,1567.2 1091.0,1556.0 C1081.8,1544.8 1071.7,1537.8 1071.0,1533.0 C1070.3,1528.2 1079.2,1529.7 1087.0,1527.0 C1094.8,1524.3 1115.3,1520.7 1118.0,1517.0 C1120.7,1513.3 1118.7,1508.2 1103.0,1505.0 C1087.3,1501.8 1048.2,1500.5 1024.0,1498.0 C999.8,1495.5 969.7,1497.5 958.0,1490.0 C946.3,1482.5 923.3,1456.8 954.0,1453.0Z" fill="#f6f2d6"/>
<path d="M310.0,1130.0 C320.8,1118.3 335.0,1109.2 350.0,1100.0 C365.0,1090.8 375.0,1080.0 400.0,1075.0 C425.0,1070.0 470.8,1070.0 500.0,1070.0 C529.2,1070.0 553.3,1072.5 575.0,1075.0 C596.7,1077.5 622.5,1079.2 630.0,1085.0 C637.5,1090.8 626.7,1098.3 620.0,1110.0 C613.3,1121.7 600.8,1139.2 590.0,1155.0 C579.2,1170.8 565.0,1188.3 555.0,1205.0 C545.0,1221.7 539.2,1242.5 530.0,1255.0 C520.8,1267.5 513.3,1275.0 500.0,1280.0 C486.7,1285.0 470.8,1285.0 450.0,1285.0 C429.2,1285.0 400.0,1282.5 375.0,1280.0 C350.0,1277.5 315.8,1278.3 300.0,1270.0 C284.2,1261.7 282.5,1246.7 280.0,1230.0 C277.5,1213.3 280.0,1186.7 285.0,1170.0 C290.0,1153.3 299.2,1141.7 310.0,1130.0Z" fill="#04a5e1"/>
<path d="M310.0,1130.0 C320.8,1118.3 335.0,1109.2 350.0,1100.0 C365.0,1090.8 375.0,1080.0 400.0,1075.0 C425.0,1070.0 470.8,1070.0 500.0,1070.0 C529.2,1070.0 553.3,1072.5 575.0,1075.0 C596.7,1077.5 622.5,1079.2 630.0,1085.0 C637.5,1090.8 626.7,1098.3 620.0,1110.0 C613.3,1121.7 600.8,1139.2 590.0,1155.0 C579.2,1170.8 565.0,1188.3 555.0,1205.0 C545.0,1221.7 539.2,1242.5 530.0,1255.0 C520.8,1267.5 513.3,1275.0 500.0,1280.0 C486.7,1285.0 470.8,1285.0 450.0,1285.0 C429.2,1285.0 400.0,1282.5 375.0,1280.0 C350.0,1277.5 315.8,1278.3 300.0,1270.0 C284.2,1261.7 282.5,1246.7 280.0,1230.0 C277.5,1213.3 280.0,1186.7 285.0,1170.0 C290.0,1153.3 299.2,1141.7 310.0,1130.0Z" fill="url(#wv_ros)"/>
<path d="M719.0,1090.0 C737.7,1087.3 769.8,1085.7 800.0,1084.0 C830.2,1082.3 842.0,1082.0 900.0,1080.0 C958.0,1078.0 1016.3,1074.0 1148.0,1072.0 C1279.7,1070.0 1596.0,1066.3 1690.0,1068.0 C1784.0,1069.7 1707.7,1073.3 1712.0,1082.0 C1716.3,1090.7 1716.3,1095.3 1716.0,1120.0 C1715.7,1144.7 1714.7,1199.2 1710.0,1230.0 C1705.3,1260.8 1698.3,1284.2 1688.0,1305.0 C1677.7,1325.8 1663.0,1344.2 1648.0,1355.0 C1633.0,1365.8 1631.0,1372.5 1598.0,1370.0 C1565.0,1367.5 1525.0,1350.8 1450.0,1340.0 C1375.0,1329.2 1264.7,1312.5 1148.0,1305.0 C1031.3,1297.5 847.0,1298.5 750.0,1295.0 C653.0,1291.5 595.2,1289.5 566.0,1284.0 C536.8,1278.5 569.2,1271.5 575.0,1262.0 C580.8,1252.5 591.5,1236.2 601.0,1227.0 C610.5,1217.8 616.0,1208.3 632.0,1207.0 C648.0,1205.7 679.0,1217.8 697.0,1219.0 C715.0,1220.2 729.2,1218.8 740.0,1214.0 C750.8,1209.2 762.0,1198.0 762.0,1190.0 C762.0,1182.0 750.8,1170.0 740.0,1166.0 C729.2,1162.0 711.5,1168.7 697.0,1166.0 C682.5,1163.3 659.2,1156.8 653.0,1150.0 C646.8,1143.2 654.2,1133.3 660.0,1125.0 C665.8,1116.7 678.2,1105.8 688.0,1100.0 C697.8,1094.2 700.3,1092.7 719.0,1090.0Z" fill="#04a5e1"/>
<path d="M719.0,1090.0 C737.7,1087.3 769.8,1085.7 800.0,1084.0 C830.2,1082.3 842.0,1082.0 900.0,1080.0 C958.0,1078.0 1016.3,1074.0 1148.0,1072.0 C1279.7,1070.0 1596.0,1066.3 1690.0,1068.0 C1784.0,1069.7 1707.7,1073.3 1712.0,1082.0 C1716.3,1090.7 1716.3,1095.3 1716.0,1120.0 C1715.7,1144.7 1714.7,1199.2 1710.0,1230.0 C1705.3,1260.8 1698.3,1284.2 1688.0,1305.0 C1677.7,1325.8 1663.0,1344.2 1648.0,1355.0 C1633.0,1365.8 1631.0,1372.5 1598.0,1370.0 C1565.0,1367.5 1525.0,1350.8 1450.0,1340.0 C1375.0,1329.2 1264.7,1312.5 1148.0,1305.0 C1031.3,1297.5 847.0,1298.5 750.0,1295.0 C653.0,1291.5 595.2,1289.5 566.0,1284.0 C536.8,1278.5 569.2,1271.5 575.0,1262.0 C580.8,1252.5 591.5,1236.2 601.0,1227.0 C610.5,1217.8 616.0,1208.3 632.0,1207.0 C648.0,1205.7 679.0,1217.8 697.0,1219.0 C715.0,1220.2 729.2,1218.8 740.0,1214.0 C750.8,1209.2 762.0,1198.0 762.0,1190.0 C762.0,1182.0 750.8,1170.0 740.0,1166.0 C729.2,1162.0 711.5,1168.7 697.0,1166.0 C682.5,1163.3 659.2,1156.8 653.0,1150.0 C646.8,1143.2 654.2,1133.3 660.0,1125.0 C665.8,1116.7 678.2,1105.8 688.0,1100.0 C697.8,1094.2 700.3,1092.7 719.0,1090.0Z" fill="url(#wv_pal)"/>
<path d="M1813.0,1075.0 C1835.5,1021.3 1891.8,1063.5 1948.0,1058.0 C2004.2,1052.5 2098.3,1045.7 2150.0,1042.0 C2201.7,1038.3 2224.7,1035.0 2258.0,1036.0 C2291.3,1037.0 2321.8,1042.8 2350.0,1048.0 C2378.2,1053.2 2403.8,1060.8 2427.0,1067.0 C2450.2,1073.2 2468.5,1077.8 2489.0,1085.0 C2509.5,1092.2 2530.7,1101.7 2550.0,1110.0 C2569.3,1118.3 2591.7,1125.0 2605.0,1135.0 C2618.3,1145.0 2625.8,1129.2 2630.0,1170.0 C2634.2,1210.8 2633.3,1340.8 2630.0,1380.0 C2626.7,1419.2 2648.3,1400.0 2610.0,1405.0 C2571.7,1410.0 2476.7,1410.0 2400.0,1410.0 C2323.3,1410.0 2225.0,1406.7 2150.0,1405.0 C2075.0,1403.3 2003.3,1401.7 1950.0,1400.0 C1896.7,1398.3 1852.8,1398.3 1830.0,1395.0 C1807.2,1391.7 1815.8,1433.3 1813.0,1380.0 C1810.2,1326.7 1790.5,1128.7 1813.0,1075.0Z" fill="#04a5e1"/>
<path d="M1813.0,1075.0 C1835.5,1021.3 1891.8,1063.5 1948.0,1058.0 C2004.2,1052.5 2098.3,1045.7 2150.0,1042.0 C2201.7,1038.3 2224.7,1035.0 2258.0,1036.0 C2291.3,1037.0 2321.8,1042.8 2350.0,1048.0 C2378.2,1053.2 2403.8,1060.8 2427.0,1067.0 C2450.2,1073.2 2468.5,1077.8 2489.0,1085.0 C2509.5,1092.2 2530.7,1101.7 2550.0,1110.0 C2569.3,1118.3 2591.7,1125.0 2605.0,1135.0 C2618.3,1145.0 2625.8,1129.2 2630.0,1170.0 C2634.2,1210.8 2633.3,1340.8 2630.0,1380.0 C2626.7,1419.2 2648.3,1400.0 2610.0,1405.0 C2571.7,1410.0 2476.7,1410.0 2400.0,1410.0 C2323.3,1410.0 2225.0,1406.7 2150.0,1405.0 C2075.0,1403.3 2003.3,1401.7 1950.0,1400.0 C1896.7,1398.3 1852.8,1398.3 1830.0,1395.0 C1807.2,1391.7 1815.8,1433.3 1813.0,1380.0 C1810.2,1326.7 1790.5,1128.7 1813.0,1075.0Z" fill="url(#wv_idy)"/>
<path d="M2835.0,1022.0 C2905.0,1018.7 3163.8,1017.3 3235.0,1020.0 C3306.2,1022.7 3256.8,1019.7 3262.0,1038.0 C3267.2,1056.3 3266.3,1089.7 3266.0,1130.0 C3265.7,1170.3 3261.8,1234.2 3260.0,1280.0 C3258.2,1325.8 3256.7,1376.7 3255.0,1405.0 C3253.3,1433.3 3255.8,1436.7 3250.0,1450.0 C3244.2,1463.3 3230.8,1479.2 3220.0,1485.0 C3209.2,1490.8 3203.3,1489.2 3185.0,1485.0 C3166.7,1480.8 3137.5,1468.3 3110.0,1460.0 C3082.5,1451.7 3053.3,1442.5 3020.0,1435.0 C2986.7,1427.5 2946.7,1418.0 2910.0,1415.0 C2873.3,1412.0 2821.3,1419.5 2800.0,1417.0 C2778.7,1414.5 2785.0,1427.8 2782.0,1400.0 C2779.0,1372.2 2779.7,1284.0 2782.0,1250.0 C2784.3,1216.0 2792.2,1221.3 2796.0,1196.0 C2799.8,1170.7 2801.8,1124.0 2805.0,1098.0 C2808.2,1072.0 2810.0,1052.7 2815.0,1040.0 C2820.0,1027.3 2765.0,1025.3 2835.0,1022.0Z" fill="#04a5e1"/>
<path d="M2835.0,1022.0 C2905.0,1018.7 3163.8,1017.3 3235.0,1020.0 C3306.2,1022.7 3256.8,1019.7 3262.0,1038.0 C3267.2,1056.3 3266.3,1089.7 3266.0,1130.0 C3265.7,1170.3 3261.8,1234.2 3260.0,1280.0 C3258.2,1325.8 3256.7,1376.7 3255.0,1405.0 C3253.3,1433.3 3255.8,1436.7 3250.0,1450.0 C3244.2,1463.3 3230.8,1479.2 3220.0,1485.0 C3209.2,1490.8 3203.3,1489.2 3185.0,1485.0 C3166.7,1480.8 3137.5,1468.3 3110.0,1460.0 C3082.5,1451.7 3053.3,1442.5 3020.0,1435.0 C2986.7,1427.5 2946.7,1418.0 2910.0,1415.0 C2873.3,1412.0 2821.3,1419.5 2800.0,1417.0 C2778.7,1414.5 2785.0,1427.8 2782.0,1400.0 C2779.0,1372.2 2779.7,1284.0 2782.0,1250.0 C2784.3,1216.0 2792.2,1221.3 2796.0,1196.0 C2799.8,1170.7 2801.8,1124.0 2805.0,1098.0 C2808.2,1072.0 2810.0,1052.7 2815.0,1040.0 C2820.0,1027.3 2765.0,1025.3 2835.0,1022.0Z" fill="url(#wv_aro)"/>
<path d="M335.0,1420.0 C359.2,1409.0 392.5,1414.0 420.0,1414.0 C447.5,1414.0 491.7,1405.7 500.0,1420.0 C508.3,1434.3 478.3,1470.0 470.0,1500.0 C461.7,1530.0 456.7,1566.7 450.0,1600.0 C443.3,1633.3 435.8,1662.5 430.0,1700.0 C424.2,1737.5 423.3,1801.7 415.0,1825.0 C406.7,1848.3 399.2,1837.2 380.0,1840.0 C360.8,1842.8 318.3,1842.8 300.0,1842.0 C281.7,1841.2 280.0,1848.7 270.0,1835.0 C260.0,1821.3 243.3,1790.8 240.0,1760.0 C236.7,1729.2 247.0,1685.0 250.0,1650.0 C253.0,1615.0 253.8,1578.3 258.0,1550.0 C262.2,1521.7 262.2,1501.7 275.0,1480.0 C287.8,1458.3 310.8,1431.0 335.0,1420.0Z" fill="#04a5e1"/>
<path d="M335.0,1420.0 C359.2,1409.0 392.5,1414.0 420.0,1414.0 C447.5,1414.0 491.7,1405.7 500.0,1420.0 C508.3,1434.3 478.3,1470.0 470.0,1500.0 C461.7,1530.0 456.7,1566.7 450.0,1600.0 C443.3,1633.3 435.8,1662.5 430.0,1700.0 C424.2,1737.5 423.3,1801.7 415.0,1825.0 C406.7,1848.3 399.2,1837.2 380.0,1840.0 C360.8,1842.8 318.3,1842.8 300.0,1842.0 C281.7,1841.2 280.0,1848.7 270.0,1835.0 C260.0,1821.3 243.3,1790.8 240.0,1760.0 C236.7,1729.2 247.0,1685.0 250.0,1650.0 C253.0,1615.0 253.8,1578.3 258.0,1550.0 C262.2,1521.7 262.2,1501.7 275.0,1480.0 C287.8,1458.3 310.8,1431.0 335.0,1420.0Z" fill="url(#wv_sau)"/>
<path d="M550.0,1442.0 C570.0,1414.8 610.0,1439.0 650.0,1437.0 C690.0,1435.0 756.7,1424.5 790.0,1430.0 C823.3,1435.5 822.7,1460.8 850.0,1470.0 C877.3,1479.2 927.5,1480.3 954.0,1485.0 C980.5,1489.7 981.7,1494.0 1009.0,1498.0 C1036.3,1502.0 1099.8,1504.5 1118.0,1509.0 C1136.2,1513.5 1125.2,1521.7 1118.0,1525.0 C1110.8,1528.3 1082.8,1525.7 1075.0,1529.0 C1067.2,1532.3 1066.3,1539.2 1071.0,1545.0 C1075.7,1550.8 1092.5,1554.8 1103.0,1564.0 C1113.5,1573.2 1127.5,1585.0 1134.0,1600.0 C1140.5,1615.0 1144.0,1636.5 1142.0,1654.0 C1140.0,1671.5 1130.5,1693.8 1122.0,1705.0 C1113.5,1716.2 1100.7,1717.0 1091.0,1721.0 C1081.3,1725.0 1085.5,1723.8 1064.0,1729.0 C1042.5,1734.2 985.0,1744.8 962.0,1752.0 C939.0,1759.2 928.7,1758.8 926.0,1772.0 C923.3,1785.2 937.5,1814.7 946.0,1831.0 C954.5,1847.3 971.8,1853.7 977.0,1870.0 C982.2,1886.3 977.3,1916.7 977.0,1929.0 C976.7,1941.3 996.2,1942.3 975.0,1944.0 C953.8,1945.7 895.8,1935.7 850.0,1939.0 C804.2,1942.3 737.5,1961.5 700.0,1964.0 C662.5,1966.5 639.2,1961.5 625.0,1954.0 C610.8,1946.5 625.8,1931.3 615.0,1919.0 C604.2,1906.7 580.0,1891.5 560.0,1880.0 C540.0,1868.5 504.2,1871.7 495.0,1850.0 C485.8,1828.3 499.2,1791.7 505.0,1750.0 C510.8,1708.3 522.5,1651.3 530.0,1600.0 C537.5,1548.7 530.0,1469.2 550.0,1442.0Z" fill="#04a5e1"/>
<path d="M550.0,1442.0 C570.0,1414.8 610.0,1439.0 650.0,1437.0 C690.0,1435.0 756.7,1424.5 790.0,1430.0 C823.3,1435.5 822.7,1460.8 850.0,1470.0 C877.3,1479.2 927.5,1480.3 954.0,1485.0 C980.5,1489.7 981.7,1494.0 1009.0,1498.0 C1036.3,1502.0 1099.8,1504.5 1118.0,1509.0 C1136.2,1513.5 1125.2,1521.7 1118.0,1525.0 C1110.8,1528.3 1082.8,1525.7 1075.0,1529.0 C1067.2,1532.3 1066.3,1539.2 1071.0,1545.0 C1075.7,1550.8 1092.5,1554.8 1103.0,1564.0 C1113.5,1573.2 1127.5,1585.0 1134.0,1600.0 C1140.5,1615.0 1144.0,1636.5 1142.0,1654.0 C1140.0,1671.5 1130.5,1693.8 1122.0,1705.0 C1113.5,1716.2 1100.7,1717.0 1091.0,1721.0 C1081.3,1725.0 1085.5,1723.8 1064.0,1729.0 C1042.5,1734.2 985.0,1744.8 962.0,1752.0 C939.0,1759.2 928.7,1758.8 926.0,1772.0 C923.3,1785.2 937.5,1814.7 946.0,1831.0 C954.5,1847.3 971.8,1853.7 977.0,1870.0 C982.2,1886.3 977.3,1916.7 977.0,1929.0 C976.7,1941.3 996.2,1942.3 975.0,1944.0 C953.8,1945.7 895.8,1935.7 850.0,1939.0 C804.2,1942.3 737.5,1961.5 700.0,1964.0 C662.5,1966.5 639.2,1961.5 625.0,1954.0 C610.8,1946.5 625.8,1931.3 615.0,1919.0 C604.2,1906.7 580.0,1891.5 560.0,1880.0 C540.0,1868.5 504.2,1871.7 495.0,1850.0 C485.8,1828.3 499.2,1791.7 505.0,1750.0 C510.8,1708.3 522.5,1651.3 530.0,1600.0 C537.5,1548.7 530.0,1469.2 550.0,1442.0Z" fill="url(#wv_ato)"/>
<path d="M1146.0,1745.0 C1145.5,1729.3 1153.7,1709.2 1166.0,1694.0 C1178.3,1678.8 1196.5,1663.2 1220.0,1654.0 C1243.5,1644.8 1277.5,1639.7 1307.0,1639.0 C1336.5,1638.3 1369.0,1644.2 1397.0,1650.0 C1425.0,1655.8 1453.5,1670.7 1475.0,1674.0 C1496.5,1677.3 1513.5,1674.0 1526.0,1670.0 C1538.5,1666.0 1544.7,1665.7 1550.0,1650.0 C1555.3,1634.3 1556.7,1595.5 1558.0,1576.0 C1559.3,1556.5 1555.5,1543.2 1558.0,1533.0 C1560.5,1522.8 1566.5,1517.3 1573.0,1515.0 C1579.5,1512.7 1591.7,1512.2 1597.0,1519.0 C1602.3,1525.8 1605.7,1530.2 1605.0,1556.0 C1604.3,1581.8 1598.3,1641.3 1593.0,1674.0 C1587.7,1706.7 1582.8,1731.8 1573.0,1752.0 C1563.2,1772.2 1553.5,1783.2 1534.0,1795.0 C1514.5,1806.8 1488.7,1814.5 1456.0,1823.0 C1423.3,1831.5 1377.3,1842.7 1338.0,1846.0 C1298.7,1849.3 1246.2,1846.8 1220.0,1843.0 C1193.8,1839.2 1189.5,1832.2 1181.0,1823.0 C1172.5,1813.8 1174.8,1801.0 1169.0,1788.0 C1163.2,1775.0 1146.5,1760.7 1146.0,1745.0Z" fill="#04a5e1"/>
<path d="M1146.0,1745.0 C1145.5,1729.3 1153.7,1709.2 1166.0,1694.0 C1178.3,1678.8 1196.5,1663.2 1220.0,1654.0 C1243.5,1644.8 1277.5,1639.7 1307.0,1639.0 C1336.5,1638.3 1369.0,1644.2 1397.0,1650.0 C1425.0,1655.8 1453.5,1670.7 1475.0,1674.0 C1496.5,1677.3 1513.5,1674.0 1526.0,1670.0 C1538.5,1666.0 1544.7,1665.7 1550.0,1650.0 C1555.3,1634.3 1556.7,1595.5 1558.0,1576.0 C1559.3,1556.5 1555.5,1543.2 1558.0,1533.0 C1560.5,1522.8 1566.5,1517.3 1573.0,1515.0 C1579.5,1512.7 1591.7,1512.2 1597.0,1519.0 C1602.3,1525.8 1605.7,1530.2 1605.0,1556.0 C1604.3,1581.8 1598.3,1641.3 1593.0,1674.0 C1587.7,1706.7 1582.8,1731.8 1573.0,1752.0 C1563.2,1772.2 1553.5,1783.2 1534.0,1795.0 C1514.5,1806.8 1488.7,1814.5 1456.0,1823.0 C1423.3,1831.5 1377.3,1842.7 1338.0,1846.0 C1298.7,1849.3 1246.2,1846.8 1220.0,1843.0 C1193.8,1839.2 1189.5,1832.2 1181.0,1823.0 C1172.5,1813.8 1174.8,1801.0 1169.0,1788.0 C1163.2,1775.0 1146.5,1760.7 1146.0,1745.0Z" fill="url(#wv_lag)"/>
<path d="M1350.0,1545.0 C1351.0,1555.5 1350.2,1578.3 1356.0,1592.0 C1361.8,1605.7 1371.0,1617.3 1385.0,1627.0 C1399.0,1636.7 1423.0,1647.3 1440.0,1650.0 C1457.0,1652.7 1474.0,1649.5 1487.0,1643.0 C1500.0,1636.5 1510.5,1623.5 1518.0,1611.0 C1525.5,1598.5 1529.0,1581.7 1532.0,1568.0 C1535.0,1554.3 1566.3,1535.5 1536.0,1529.0 C1505.7,1522.5 1381.0,1526.3 1350.0,1529.0 C1319.0,1531.7 1349.0,1534.5 1350.0,1545.0Z" fill="#04a5e1"/>
<path d="M1350.0,1545.0 C1351.0,1555.5 1350.2,1578.3 1356.0,1592.0 C1361.8,1605.7 1371.0,1617.3 1385.0,1627.0 C1399.0,1636.7 1423.0,1647.3 1440.0,1650.0 C1457.0,1652.7 1474.0,1649.5 1487.0,1643.0 C1500.0,1636.5 1510.5,1623.5 1518.0,1611.0 C1525.5,1598.5 1529.0,1581.7 1532.0,1568.0 C1535.0,1554.3 1566.3,1535.5 1536.0,1529.0 C1505.7,1522.5 1381.0,1526.3 1350.0,1529.0 C1319.0,1531.7 1349.0,1534.5 1350.0,1545.0Z" fill="url(#wv_lag)"/>
<path d="M1216.0,1505.0 C1230.0,1499.7 1285.8,1496.8 1300.0,1501.0 C1314.2,1505.2 1315.0,1524.7 1301.0,1530.0 C1287.0,1535.3 1230.2,1537.2 1216.0,1533.0 C1201.8,1528.8 1202.0,1510.3 1216.0,1505.0Z" fill="#04a5e1"/>
<path d="M1216.0,1505.0 C1230.0,1499.7 1285.8,1496.8 1300.0,1501.0 C1314.2,1505.2 1315.0,1524.7 1301.0,1530.0 C1287.0,1535.3 1230.2,1537.2 1216.0,1533.0 C1201.8,1528.8 1202.0,1510.3 1216.0,1505.0Z" fill="url(#wv_lag)"/>
<path d="M1630.0,1525.0 C1642.0,1498.8 1621.7,1513.7 1700.0,1512.0 C1778.3,1510.3 2029.2,1510.3 2100.0,1515.0 C2170.8,1519.7 2123.3,1527.5 2125.0,1540.0 C2126.7,1552.5 2132.5,1533.0 2110.0,1590.0 C2087.5,1647.0 2026.8,1793.2 1990.0,1882.0 C1953.2,1970.8 1911.2,2075.5 1889.0,2123.0 C1866.8,2170.5 1871.8,2159.2 1857.0,2167.0 C1842.2,2174.8 1817.8,2176.2 1800.0,2170.0 C1782.2,2163.8 1750.3,2142.7 1750.0,2130.0 C1749.7,2117.3 1782.5,2112.5 1798.0,2094.0 C1813.5,2075.5 1843.8,2043.2 1843.0,2019.0 C1842.2,1994.8 1802.2,1980.7 1793.0,1949.0 C1783.8,1917.3 1815.5,1859.0 1788.0,1829.0 C1760.5,1799.0 1654.7,1795.7 1628.0,1769.0 C1601.3,1742.3 1627.7,1709.7 1628.0,1669.0 C1628.3,1628.3 1618.0,1551.2 1630.0,1525.0Z" fill="#04a5e1"/>
<path d="M1630.0,1525.0 C1642.0,1498.8 1621.7,1513.7 1700.0,1512.0 C1778.3,1510.3 2029.2,1510.3 2100.0,1515.0 C2170.8,1519.7 2123.3,1527.5 2125.0,1540.0 C2126.7,1552.5 2132.5,1533.0 2110.0,1590.0 C2087.5,1647.0 2026.8,1793.2 1990.0,1882.0 C1953.2,1970.8 1911.2,2075.5 1889.0,2123.0 C1866.8,2170.5 1871.8,2159.2 1857.0,2167.0 C1842.2,2174.8 1817.8,2176.2 1800.0,2170.0 C1782.2,2163.8 1750.3,2142.7 1750.0,2130.0 C1749.7,2117.3 1782.5,2112.5 1798.0,2094.0 C1813.5,2075.5 1843.8,2043.2 1843.0,2019.0 C1842.2,1994.8 1802.2,1980.7 1793.0,1949.0 C1783.8,1917.3 1815.5,1859.0 1788.0,1829.0 C1760.5,1799.0 1654.7,1795.7 1628.0,1769.0 C1601.3,1742.3 1627.7,1709.7 1628.0,1669.0 C1628.3,1628.3 1618.0,1551.2 1630.0,1525.0Z" fill="url(#wv_lgn)"/>
<ellipse cx="2226" cy="1205" rx="90" ry="30" transform="rotate(-45 2226 1205)" fill="#b1d39e"/>
<ellipse cx="2542" cy="1227" rx="68" ry="30" transform="rotate(70 2542 1227)" fill="#b1d39e"/>
<path d="M1915.0,1245.0 C1924.7,1234.7 1950.8,1228.8 1970.0,1228.0 C1989.2,1227.2 2015.3,1232.2 2030.0,1240.0 C2044.7,1247.8 2057.2,1263.7 2058.0,1275.0 C2058.8,1286.3 2046.3,1300.5 2035.0,1308.0 C2023.7,1315.5 2001.7,1314.7 1990.0,1320.0 C1978.3,1325.3 1971.7,1326.7 1965.0,1340.0 C1958.3,1353.3 1960.8,1388.3 1950.0,1400.0 C1939.2,1411.7 1907.5,1420.0 1900.0,1410.0 C1892.5,1400.0 1903.0,1360.0 1905.0,1340.0 C1907.0,1320.0 1910.3,1305.8 1912.0,1290.0 C1913.7,1274.2 1905.3,1255.3 1915.0,1245.0Z" fill="#b1d39e"/>
<path d="M3100.0,1275.0 C3108.3,1269.7 3124.2,1268.8 3150.0,1268.0 C3175.8,1267.2 3237.5,1261.3 3255.0,1270.0 C3272.5,1278.7 3264.2,1310.0 3255.0,1320.0 C3245.8,1330.0 3219.2,1330.0 3200.0,1330.0 C3180.8,1330.0 3156.7,1325.0 3140.0,1320.0 C3123.3,1315.0 3106.7,1307.5 3100.0,1300.0 C3093.3,1292.5 3091.7,1280.3 3100.0,1275.0Z" fill="#b1d39e"/>
<ellipse cx="717" cy="1651" rx="52" ry="44" fill="#b1d39e"/>
<ellipse cx="967" cy="1585" rx="63" ry="22" fill="#b1d39e"/>
<ellipse cx="675" cy="1872" rx="32" ry="27" fill="#b1d39e"/>
<circle cx="1450" cy="1570" r="18" fill="#f6f2d6"/>
<circle cx="1322" cy="1678" r="14" fill="#a8cf9a"/>
<ellipse cx="1360" cy="1212" rx="28" ry="12" transform="rotate(-35 1360 1212)" fill="#b1d39e"/>
<use href="#tr" x="30" y="810"/>
<use href="#tr" x="78" y="812"/>
<use href="#tr" x="145" y="817"/>
<use href="#tr" x="188" y="815"/>
<use href="#tr" x="230" y="812"/>
<use href="#tr" x="272" y="827"/>
<use href="#tr" x="362" y="827"/>
<use href="#tr" x="428" y="825"/>
<use href="#tr" x="495" y="825"/>
<use href="#tr" x="562" y="822"/>
<use href="#tr" x="622" y="822"/>
<use href="#tr" x="675" y="820"/>
<use href="#tr" x="732" y="820"/>
<use href="#tr" x="785" y="817"/>
<use href="#tr" x="860" y="812"/>
<use href="#tr" x="910" y="812"/>
<use href="#tr" x="940" y="810"/>
<use href="#tr" x="992" y="807"/>
<use href="#tr" x="1038" y="802"/>
<use href="#tr" x="1125" y="797"/>
<use href="#tr" x="1205" y="790"/>
<use href="#tr" x="1265" y="788"/>
<use href="#tr" x="1340" y="780"/>
<use href="#tr" x="1425" y="778"/>
<use href="#tr" x="1480" y="775"/>
<use href="#tr" x="1510" y="780"/>
<use href="#tr" x="1548" y="782"/>
<use href="#tr" x="1580" y="785"/>
<use href="#tr" x="1623" y="788"/>
<use href="#tr" x="1688" y="785"/>
<use href="#tr" x="1725" y="780"/>
<use href="#tr" x="1778" y="778"/>
<use href="#tr" x="1810" y="775"/>
<use href="#tr" x="1853" y="765"/>
<use href="#tr" x="1925" y="758"/>
<use href="#tr" x="2005" y="758"/>
<use href="#tr" x="2093" y="765"/>
<use href="#tr" x="2153" y="772"/>
<use href="#tr" x="2218" y="770"/>
<use href="#tr" x="2293" y="772"/>
<use href="#tr" x="30" y="935"/>
<use href="#tr" x="70" y="935"/>
<use href="#tr" x="140" y="932"/>
<use href="#tr" x="230" y="930"/>
<use href="#tr" x="265" y="932"/>
<use href="#tr" x="300" y="932"/>
<use href="#tr" x="340" y="932"/>
<use href="#tr" x="428" y="932"/>
<use href="#tr" x="495" y="932"/>
<use href="#tr" x="560" y="932"/>
<use href="#tr" x="618" y="935"/>
<use href="#tr" x="680" y="935"/>
<use href="#tr" x="742" y="935"/>
<use href="#tr" x="820" y="935"/>
<use href="#tr" x="865" y="937"/>
<use href="#tr" x="945" y="935"/>
<use href="#tr" x="1030" y="937"/>
<use href="#tr" x="1118" y="930"/>
<use href="#tr" x="1208" y="915"/>
<use href="#tr" x="1295" y="905"/>
<use href="#tr" x="1378" y="900"/>
<use href="#tr" x="1455" y="898"/>
<use href="#tr" x="1530" y="900"/>
<use href="#tr" x="1578" y="900"/>
<use href="#tr" x="1668" y="900"/>
<use href="#tr" x="1700" y="900"/>
<use href="#tr" x="1743" y="898"/>
<use href="#tr" x="1788" y="898"/>
<use href="#tr" x="1825" y="898"/>
<use href="#tr" x="1910" y="898"/>
<use href="#tr" x="1965" y="895"/>
<use href="#tr" x="2038" y="898"/>
<use href="#tr" x="2133" y="895"/>
<use href="#tr" x="2193" y="895"/>
<use href="#tr" x="2268" y="892"/>
<use href="#tr" x="385" y="1082"/>
<use href="#tr" x="440" y="1072"/>
<use href="#tr" x="555" y="1070"/>
<use href="#tr" x="600" y="1060"/>
<use href="#tr" x="300" y="1125"/>
<use href="#tr" x="345" y="1117"/>
<use href="#tr" x="230" y="1150"/>
<use href="#tr" x="190" y="1177"/>
<use href="#tr" x="250" y="1195"/>
<use href="#tr" x="110" y="1217"/>
<use href="#tr" x="265" y="1247"/>
<use href="#tr" x="100" y="1275"/>
<use href="#tr" x="145" y="1300"/>
<use href="#tr" x="340" y="1290"/>
<use href="#tr" x="300" y="1290"/>
<use href="#tr" x="765" y="1082"/>
<use href="#tr" x="830" y="1082"/>
<use href="#tr" x="910" y="1090"/>
<use href="#tr" x="960" y="1085"/>
<use href="#tr" x="1005" y="1080"/>
<use href="#tr" x="1045" y="1075"/>
<use href="#tr" x="1075" y="1070"/>
<use href="#tr" x="1115" y="1075"/>
<use href="#tr" x="742" y="1190"/>
<use href="#tr" x="585" y="1300"/>
<use href="#tr" x="630" y="1300"/>
<use href="#tr" x="690" y="1300"/>
<use href="#tr" x="810" y="1310"/>
<use href="#tr" x="860" y="1310"/>
<use href="#tr" x="910" y="1315"/>
<use href="#tr" x="950" y="1312"/>
<use href="#tr" x="990" y="1310"/>
<use href="#tr" x="1040" y="1315"/>
<use href="#tr" x="1085" y="1317"/>
<use href="#tr" x="1130" y="1322"/>
<use href="#tr" x="375" y="1375"/>
<use href="#tr" x="432" y="1375"/>
<use href="#tr" x="490" y="1420"/>
<use href="#tr" x="575" y="1430"/>
<use href="#tr" x="650" y="1430"/>
<use href="#tr" x="710" y="1425"/>
<use href="#tr" x="765" y="1430"/>
<use href="#tr" x="1188" y="1070"/>
<use href="#tr" x="1278" y="1065"/>
<use href="#tr" x="1343" y="1067"/>
<use href="#tr" x="1423" y="1070"/>
<use href="#tr" x="1513" y="1062"/>
<use href="#tr" x="1543" y="1070"/>
<use href="#tr" x="1898" y="1060"/>
<use href="#tr" x="1973" y="1040"/>
<use href="#tr" x="2038" y="1035"/>
<use href="#tr" x="2123" y="1035"/>
<use href="#tr" x="2198" y="1025"/>
<use href="#tr" x="2248" y="1020"/>
<use href="#tr" x="2288" y="1025"/>
<use href="#tr" x="1803" y="1120"/>
<use href="#tr" x="1798" y="1180"/>
<use href="#tr" x="1938" y="1300"/>
<use href="#tr" x="2203" y="1215"/>
<use href="#tr" x="2258" y="1180"/>
<use href="#tr" x="2238" y="1230"/>
<use href="#tr" x="1168" y="1325"/>
<use href="#tr" x="1333" y="1350"/>
<use href="#tr" x="1448" y="1355"/>
<use href="#tr" x="1798" y="1330"/>
<use href="#tr" x="1813" y="1360"/>
<use href="#tr" x="1958" y="1400"/>
<use href="#tr" x="2003" y="1395"/>
<use href="#tr" x="2178" y="1390"/>
<use href="#tr" x="2213" y="1390"/>
<use href="#tr" x="2283" y="1395"/>
<use href="#tr" x="2375" y="765"/>
<use href="#tr" x="2410" y="775"/>
<use href="#tr" x="2440" y="770"/>
<use href="#tr" x="2515" y="767"/>
<use href="#tr" x="2572" y="767"/>
<use href="#tr" x="2645" y="767"/>
<use href="#tr" x="2680" y="765"/>
<use href="#tr" x="2720" y="765"/>
<use href="#tr" x="2800" y="765"/>
<use href="#tr" x="2835" y="765"/>
<use href="#tr" x="2910" y="762"/>
<use href="#tr" x="2975" y="765"/>
<use href="#tr" x="3043" y="765"/>
<use href="#tr" x="3105" y="767"/>
<use href="#tr" x="3195" y="775"/>
<use href="#tr" x="3240" y="775"/>
<use href="#tr" x="3310" y="772"/>
<use href="#tr" x="3355" y="772"/>
<use href="#tr" x="3422" y="777"/>
<use href="#tr" x="2365" y="895"/>
<use href="#tr" x="2420" y="892"/>
<use href="#tr" x="2475" y="892"/>
<use href="#tr" x="2540" y="892"/>
<use href="#tr" x="2585" y="890"/>
<use href="#tr" x="2652" y="892"/>
<use href="#tr" x="2720" y="890"/>
<use href="#tr" x="2800" y="890"/>
<use href="#tr" x="2875" y="890"/>
<use href="#tr" x="2920" y="890"/>
<use href="#tr" x="2988" y="887"/>
<use href="#tr" x="3045" y="887"/>
<use href="#tr" x="3125" y="887"/>
<use href="#tr" x="3180" y="887"/>
<use href="#tr" x="3215" y="887"/>
<use href="#tr" x="3260" y="887"/>
<use href="#tr" x="3310" y="887"/>
<use href="#tr" x="3350" y="887"/>
<use href="#tr" x="3385" y="887"/>
<use href="#tr" x="2375" y="1030"/>
<use href="#tr" x="2443" y="1025"/>
<use href="#tr" x="2490" y="1030"/>
<use href="#tr" x="2850" y="1005"/>
<use href="#tr" x="2895" y="1000"/>
<use href="#tr" x="3105" y="1015"/>
<use href="#tr" x="3155" y="1015"/>
<use href="#tr" x="2620" y="1125"/>
<use href="#tr" x="2660" y="1097"/>
<use href="#tr" x="2800" y="1080"/>
<use href="#tr" x="2800" y="1140"/>
<use href="#tr" x="2775" y="1270"/>
<use href="#tr" x="2770" y="1325"/>
<use href="#tr" x="2810" y="1400"/>
<use href="#tr" x="2845" y="1410"/>
<use href="#tr" x="3255" y="1170"/>
<use href="#tr" x="3250" y="1245"/>
<use href="#tr" x="3190" y="1310"/>
<use href="#tr" x="3235" y="1330"/>
<use href="#tr" x="3255" y="1380"/>
<use href="#tr" x="2540" y="1205"/>
<use href="#tr" x="2535" y="1260"/>
<use href="#tr" x="2360" y="1390"/>
<use href="#tr" x="2480" y="1420"/>
<use href="#tr" x="3280" y="1065"/>
<use href="#tr" x="370" y="1450"/>
<use href="#tr" x="400" y="1450"/>
<use href="#tr" x="502" y="1425"/>
<use href="#tr" x="265" y="1570"/>
<use href="#tr" x="240" y="1675"/>
<use href="#tr" x="465" y="1560"/>
<use href="#tr" x="460" y="1600"/>
<use href="#tr" x="445" y="1650"/>
<use href="#tr" x="430" y="1700"/>
<use href="#tr" x="420" y="1750"/>
<use href="#tr" x="410" y="1800"/>
<use href="#tr" x="505" y="1610"/>
<use href="#tr" x="510" y="1650"/>
<use href="#tr" x="495" y="1710"/>
<use href="#tr" x="480" y="1765"/>
<use href="#tr" x="455" y="1825"/>
<use href="#tr" x="470" y="1850"/>
<use href="#tr" x="570" y="1445"/>
<use href="#tr" x="630" y="1435"/>
<use href="#tr" x="680" y="1430"/>
<use href="#tr" x="725" y="1435"/>
<use href="#tr" x="765" y="1440"/>
<use href="#tr" x="540" y="1540"/>
<use href="#tr" x="710" y="1640"/>
<use href="#tr" x="740" y="1665"/>
<use href="#tr" x="975" y="1570"/>
<use href="#tr" x="1005" y="1590"/>
<use href="#tr" x="1065" y="1725"/>
<use href="#tr" x="270" y="1825"/>
<use href="#tr" x="300" y="1830"/>
<use href="#tr" x="375" y="1895"/>
<use href="#tr" x="400" y="1880"/>
<use href="#tr" x="495" y="1920"/>
<use href="#tr" x="560" y="1915"/>
<use href="#tr" x="605" y="1920"/>
<use href="#tr" x="670" y="1870"/>
<use href="#tr" x="1100" y="1830"/>
<use href="#tr" x="1130" y="1865"/>
<use href="#tr" x="1040" y="1850"/>
<use href="#tr" x="825" y="1980"/>
<use href="#tr" x="1080" y="1970"/>
<use href="#tr" x="1100" y="2015"/>
<use href="#tr" x="1163" y="1325"/>
<use href="#tr" x="1448" y="1355"/>
<use href="#tr" x="1213" y="1550"/>
<use href="#tr" x="1658" y="1520"/>
<use href="#tr" x="1708" y="1505"/>
<use href="#tr" x="1768" y="1505"/>
<use href="#tr" x="1928" y="1515"/>
<use href="#tr" x="2013" y="1522"/>
<use href="#tr" x="2073" y="1522"/>
<use href="#tr" x="1628" y="1655"/>
<use href="#tr" x="1613" y="1725"/>
<use href="#tr" x="2098" y="1635"/>
<use href="#tr" x="2078" y="1690"/>
<use href="#tr" x="2063" y="1725"/>
<use href="#tr" x="2058" y="1760"/>
<use href="#tr" x="1598" y="1825"/>
<use href="#tr" x="1648" y="1850"/>
<use href="#tr" x="1683" y="1875"/>
<use href="#tr" x="1648" y="1900"/>
<use href="#tr" x="1948" y="1950"/>
<use href="#tr" x="1933" y="1980"/>
<use href="#tr" x="1598" y="1950"/>
<use href="#tr" x="1623" y="1975"/>
<use href="#tr" x="1598" y="2025"/>
<use href="#tr" x="1648" y="2025"/>
<use href="#tr" x="1698" y="1975"/>
<use href="#tr" x="1238" y="1979"/>
<use href="#tr" x="1278" y="1974"/>
<use href="#tr" x="1313" y="1979"/>
<use href="#tr" x="1373" y="1989"/>
<use href="#tr" x="1408" y="1989"/>
<use href="#tr" x="1208" y="2019"/>
<use href="#tr" x="1213" y="1909"/>
<use href="#tr" x="1283" y="1939"/>
<use href="#tr" x="1583" y="1969"/>
<use href="#tr" x="1643" y="1969"/>
<use href="#tr" x="1678" y="1969"/>
<use href="#tr" x="1598" y="2019"/>
<use href="#tr" x="1523" y="2039"/>
<use href="#tr" x="1473" y="2049"/>
<use href="#tr" x="1498" y="2079"/>
<use href="#tr" x="1583" y="2099"/>
<use href="#tr" x="1663" y="2099"/>
<use href="#tr" x="1733" y="2084"/>
<use href="#tr" x="1648" y="2054"/>
<use href="#tr" x="1958" y="1954"/>
<use href="#tr" x="1938" y="1979"/>
<use href="#tr" x="1918" y="2049"/>
<use href="#tr" x="1873" y="2134"/>
<use href="#tr" x="1758" y="2149"/>
<use href="#tr" x="1778" y="2189"/>
<use href="#tr" x="1595" y="1828"/>
<use href="#tr" x="1650" y="1869"/>
<use href="#tr" x="1609" y="1970"/>
<use href="#tr" x="1655" y="1970"/>
<use href="#tr" x="1687" y="1965"/>
<use href="#tr" x="1595" y="2006"/>
<use href="#tr" x="1517" y="2034"/>
<use href="#tr" x="1494" y="2070"/>
<use href="#tr" x="1586" y="2043"/>
<use href="#tr" x="1655" y="2088"/>
<use href="#tr" x="1613" y="2098"/>
<use href="#tr" x="1577" y="2088"/>
<use href="#tr" x="1746" y="2070"/>
<use href="#tr" x="3045" y="1445"/>
<use href="#tr" x="3085" y="1440"/>
<use href="#tr" x="3125" y="1445"/>
<use href="#tr" x="3200" y="1480"/>
<g stroke="#f5d77a" stroke-width="7"><line x1="1100" y1="1745" x2="1150" y2="1762"/><line x1="1109" y1="1733" x2="1159" y2="1750"/><line x1="1118" y1="1721" x2="1168" y2="1738"/><line x1="1127" y1="1709" x2="1177" y2="1726"/><line x1="1136" y1="1697" x2="1186" y2="1714"/><line x1="1145" y1="1685" x2="1195" y2="1702"/><line x1="1154" y1="1673" x2="1204" y2="1690"/></g>
<path d="M1438,1909 L1468,1949 L1498,1974 L1548,1989 L1593,1999 L1708,2019 L1708,2044 L1588,2034 L1498,2014 L1428,2009 L1413,1989 L1418,1949 Z" fill="#4a4a4a"/>
<g><path d="M852,2023 L930,1965" stroke="#0a8a3a" stroke-width="22" stroke-linecap="round"/><path d="M856,2019 L926,1969" stroke="#07a23f" stroke-width="12" stroke-linecap="round"/><rect x="852" y="2031" width="3" height="16" fill="#4a2a10"/><rect x="871" y="2017" width="3" height="16" fill="#4a2a10"/><rect x="890" y="2003" width="3" height="16" fill="#4a2a10"/><rect x="909" y="1989" width="3" height="16" fill="#4a2a10"/><rect x="928" y="1975" width="3" height="16" fill="#4a2a10"/></g>
<g><path d="M876,2040 L954,1982" stroke="#0a8a3a" stroke-width="22" stroke-linecap="round"/><path d="M880,2036 L950,1986" stroke="#07a23f" stroke-width="12" stroke-linecap="round"/><rect x="876" y="2048" width="3" height="16" fill="#4a2a10"/><rect x="895" y="2034" width="3" height="16" fill="#4a2a10"/><rect x="914" y="2020" width="3" height="16" fill="#4a2a10"/><rect x="933" y="2006" width="3" height="16" fill="#4a2a10"/><rect x="952" y="1992" width="3" height="16" fill="#4a2a10"/></g>
<g><path d="M900,2055 L978,1997" stroke="#0a8a3a" stroke-width="22" stroke-linecap="round"/><path d="M904,2051 L974,2001" stroke="#07a23f" stroke-width="12" stroke-linecap="round"/><rect x="900" y="2063" width="3" height="16" fill="#4a2a10"/><rect x="919" y="2049" width="3" height="16" fill="#4a2a10"/><rect x="938" y="2035" width="3" height="16" fill="#4a2a10"/><rect x="957" y="2021" width="3" height="16" fill="#4a2a10"/><rect x="976" y="2007" width="3" height="16" fill="#4a2a10"/></g>
<path d="M1106,1955 L1200,1935 L1200,1948 L1110,1968 Z" fill="#6a3a1a"/><g fill="#3aa040"><circle cx="1112" cy="1950.0" r="5"/><circle cx="1124" cy="1947.4" r="5"/><circle cx="1136" cy="1944.8" r="5"/><circle cx="1148" cy="1942.2" r="5"/><circle cx="1160" cy="1939.6" r="5"/><circle cx="1172" cy="1937.0" r="5"/><circle cx="1184" cy="1934.4" r="5"/><circle cx="1196" cy="1931.8" r="5"/></g><g fill="#e06030"><circle cx="1118" cy="1956.0" r="2.5"/><circle cx="1130" cy="1953.4" r="2.5"/><circle cx="1142" cy="1950.8" r="2.5"/><circle cx="1154" cy="1948.2" r="2.5"/><circle cx="1166" cy="1945.6" r="2.5"/><circle cx="1178" cy="1943.0" r="2.5"/><circle cx="1190" cy="1940.4" r="2.5"/></g>
<g transform="translate(182,1240) scale(1.0)"><path d="M-50,-6 L-26,-38 L36,-30 L54,-2 L40,10 L-40,4 Z" fill="#fff"/><path d="M-44,-6 L-24,-34 L34,-26 L48,-4 L36,6 L-38,2 Z" fill="#3a8ee0"/><path d="M-40,2 L36,6 L36,40 L-40,36 Z" fill="#f2f2ea" stroke="#fff" stroke-width="3"/><path d="M36,6 L48,-4 L48,30 L36,40 Z" fill="#d8d8cc"/><rect x="-30" y="12" width="12" height="12" fill="#1a5a9a"/><rect x="-10" y="12" width="12" height="24" fill="#1a5a9a"/><rect x="12" y="12" width="12" height="10" fill="#1a5a9a"/></g>
<g transform="translate(905,1455) scale(1.0)"><path d="M-58,-10 L-35,-42 L40,-34 L58,-4 L40,8 L-40,2 Z" fill="#fff"/><path d="M-52,-10 L-33,-38 L38,-30 L52,-6 L36,4 L-38,0 Z" fill="#a8701c"/><path d="M38,-30 L52,-6 L36,4 L22,-24 Z" fill="#c98a2e"/><path d="M-46,-4 L36,2 L36,38 L-46,34 Z" fill="#8c6a38" stroke="#fff" stroke-width="3"/><path d="M36,2 L50,-8 L50,26 L36,38 Z" fill="#7a5a2a"/><rect x="-36" y="8" width="16" height="12" fill="#fff"/><rect x="-12" y="8" width="14" height="28" fill="#fff"/><rect x="12" y="10" width="16" height="12" fill="#fff"/></g>
<g transform="translate(1010,1745) scale(1.0)"><path d="M-58,-10 L-35,-42 L40,-34 L58,-4 L40,8 L-40,2 Z" fill="#fff"/><path d="M-52,-10 L-33,-38 L38,-30 L52,-6 L36,4 L-38,0 Z" fill="#a8701c"/><path d="M38,-30 L52,-6 L36,4 L22,-24 Z" fill="#c98a2e"/><path d="M-46,-4 L36,2 L36,38 L-46,34 Z" fill="#8c6a38" stroke="#fff" stroke-width="3"/><path d="M36,2 L50,-8 L50,26 L36,38 Z" fill="#7a5a2a"/><rect x="-36" y="8" width="16" height="12" fill="#fff"/><rect x="-12" y="8" width="14" height="28" fill="#fff"/><rect x="12" y="10" width="16" height="12" fill="#fff"/></g>
<g transform="translate(555,1860) scale(1.0)"><path d="M-58,-10 L-35,-42 L40,-34 L58,-4 L40,8 L-40,2 Z" fill="#fff"/><path d="M-52,-10 L-33,-38 L38,-30 L52,-6 L36,4 L-38,0 Z" fill="#a8701c"/><path d="M38,-30 L52,-6 L36,4 L22,-24 Z" fill="#c98a2e"/><path d="M-46,-4 L36,2 L36,38 L-46,34 Z" fill="#8c6a38" stroke="#fff" stroke-width="3"/><path d="M36,2 L50,-8 L50,26 L36,38 Z" fill="#7a5a2a"/><rect x="-36" y="8" width="16" height="12" fill="#fff"/><rect x="-12" y="8" width="14" height="28" fill="#fff"/><rect x="12" y="10" width="16" height="12" fill="#fff"/></g>
<g transform="translate(1540,1350) scale(1.0)"><path d="M-58,-10 L-35,-42 L40,-34 L58,-4 L40,8 L-40,2 Z" fill="#fff"/><path d="M-52,-10 L-33,-38 L38,-30 L52,-6 L36,4 L-38,0 Z" fill="#a8701c"/><path d="M38,-30 L52,-6 L36,4 L22,-24 Z" fill="#c98a2e"/><path d="M-46,-4 L36,2 L36,38 L-46,34 Z" fill="#8c6a38" stroke="#fff" stroke-width="3"/><path d="M36,2 L50,-8 L50,26 L36,38 Z" fill="#7a5a2a"/><rect x="-36" y="8" width="16" height="12" fill="#fff"/><rect x="-12" y="8" width="14" height="28" fill="#fff"/><rect x="12" y="10" width="16" height="12" fill="#fff"/></g>
<g transform="translate(1780,1265) scale(1.0)"><path d="M-58,-10 L-35,-42 L40,-34 L58,-4 L40,8 L-40,2 Z" fill="#fff"/><path d="M-52,-10 L-33,-38 L38,-30 L52,-6 L36,4 L-38,0 Z" fill="#a8701c"/><path d="M38,-30 L52,-6 L36,4 L22,-24 Z" fill="#c98a2e"/><path d="M-46,-4 L36,2 L36,38 L-46,34 Z" fill="#8c6a38" stroke="#fff" stroke-width="3"/><path d="M36,2 L50,-8 L50,26 L36,38 Z" fill="#7a5a2a"/><rect x="-36" y="8" width="16" height="12" fill="#fff"/><rect x="-12" y="8" width="14" height="28" fill="#fff"/><rect x="12" y="10" width="16" height="12" fill="#fff"/></g>
<g transform="translate(2552,1077) scale(1.0)"><path d="M-58,-10 L-35,-42 L40,-34 L58,-4 L40,8 L-40,2 Z" fill="#fff"/><path d="M-52,-10 L-33,-38 L38,-30 L52,-6 L36,4 L-38,0 Z" fill="#a8701c"/><path d="M38,-30 L52,-6 L36,4 L22,-24 Z" fill="#c98a2e"/><path d="M-46,-4 L36,2 L36,38 L-46,34 Z" fill="#8c6a38" stroke="#fff" stroke-width="3"/><path d="M36,2 L50,-8 L50,26 L36,38 Z" fill="#7a5a2a"/><rect x="-36" y="8" width="16" height="12" fill="#fff"/><rect x="-12" y="8" width="14" height="28" fill="#fff"/><rect x="12" y="10" width="16" height="12" fill="#fff"/></g>
<g transform="translate(2960,1430) scale(1.0)"><path d="M-58,-10 L-35,-42 L40,-34 L58,-4 L40,8 L-40,2 Z" fill="#fff"/><path d="M-52,-10 L-33,-38 L38,-30 L52,-6 L36,4 L-38,0 Z" fill="#a8701c"/><path d="M38,-30 L52,-6 L36,4 L22,-24 Z" fill="#c98a2e"/><path d="M-46,-4 L36,2 L36,38 L-46,34 Z" fill="#8c6a38" stroke="#fff" stroke-width="3"/><path d="M36,2 L50,-8 L50,26 L36,38 Z" fill="#7a5a2a"/><rect x="-36" y="8" width="16" height="12" fill="#fff"/><rect x="-12" y="8" width="14" height="28" fill="#fff"/><rect x="12" y="10" width="16" height="12" fill="#fff"/></g>
<g transform="translate(1753,1951) scale(1.0)"><path d="M-58,-10 L-35,-42 L40,-34 L58,-4 L40,8 L-40,2 Z" fill="#fff"/><path d="M-52,-10 L-33,-38 L38,-30 L52,-6 L36,4 L-38,0 Z" fill="#a8701c"/><path d="M38,-30 L52,-6 L36,4 L22,-24 Z" fill="#c98a2e"/><path d="M-46,-4 L36,2 L36,38 L-46,34 Z" fill="#8c6a38" stroke="#fff" stroke-width="3"/><path d="M36,2 L50,-8 L50,26 L36,38 Z" fill="#7a5a2a"/><rect x="-36" y="8" width="16" height="12" fill="#fff"/><rect x="-12" y="8" width="14" height="28" fill="#fff"/><rect x="12" y="10" width="16" height="12" fill="#fff"/></g>
<g transform="translate(2680,1370) scale(1.0)"><path d="M-50,-6 L-26,-38 L36,-30 L54,-2 L40,10 L-40,4 Z" fill="#fff"/><path d="M-44,-6 L-24,-34 L34,-26 L48,-4 L36,6 L-38,2 Z" fill="#e8388e"/><path d="M-40,2 L36,6 L36,40 L-40,36 Z" fill="#f2f2ea" stroke="#fff" stroke-width="3"/><path d="M36,6 L48,-4 L48,30 L36,40 Z" fill="#d8d8cc"/><rect x="-30" y="12" width="12" height="12" fill="#8a2a9a"/><rect x="-10" y="12" width="12" height="24" fill="#8a2a9a"/><rect x="12" y="12" width="12" height="10" fill="#8a2a9a"/></g>
<g transform="translate(1660,1815) scale(1.0)"><path d="M-50,-6 L-26,-38 L36,-30 L54,-2 L40,10 L-40,4 Z" fill="#fff"/><path d="M-44,-6 L-24,-34 L34,-26 L48,-4 L36,6 L-38,2 Z" fill="#f58a2a"/><path d="M-40,2 L36,6 L36,40 L-40,36 Z" fill="#f2f2ea" stroke="#fff" stroke-width="3"/><path d="M36,6 L48,-4 L48,30 L36,40 Z" fill="#d8d8cc"/><rect x="-30" y="12" width="12" height="12" fill="#555"/><rect x="-10" y="12" width="12" height="24" fill="#555"/><rect x="12" y="12" width="12" height="10" fill="#555"/></g>
<g transform="translate(1413,1830) scale(1.0)"><path d="M-50,-6 L-26,-38 L36,-30 L54,-2 L40,10 L-40,4 Z" fill="#fff"/><path d="M-44,-6 L-24,-34 L34,-26 L48,-4 L36,6 L-38,2 Z" fill="#2a80c8"/><path d="M-40,2 L36,6 L36,40 L-40,36 Z" fill="#f2f2ea" stroke="#fff" stroke-width="3"/><path d="M36,6 L48,-4 L48,30 L36,40 Z" fill="#d8d8cc"/><rect x="-30" y="12" width="12" height="12" fill="#1a5a9a"/><rect x="-10" y="12" width="12" height="24" fill="#1a5a9a"/><rect x="12" y="12" width="12" height="10" fill="#1a5a9a"/></g>
<g transform="translate(1515,1980) scale(1.0)"><path d="M-50,-6 L-26,-38 L36,-30 L54,-2 L40,10 L-40,4 Z" fill="#fff"/><path d="M-44,-6 L-24,-34 L34,-26 L48,-4 L36,6 L-38,2 Z" fill="#bbbbbb"/><path d="M-40,2 L36,6 L36,40 L-40,36 Z" fill="#f2f2ea" stroke="#fff" stroke-width="3"/><path d="M36,6 L48,-4 L48,30 L36,40 Z" fill="#d8d8cc"/><rect x="-30" y="12" width="12" height="12" fill="#666"/><rect x="-10" y="12" width="12" height="24" fill="#666"/><rect x="12" y="12" width="12" height="10" fill="#666"/></g>
<path d="M1630,2178 L1790,2175 L1800,2200 L1780,2225 L1640,2222 Z" fill="#fff"/><path d="M1638,2182 L1785,2180 L1794,2200 L1778,2218 L1642,2216 Z" fill="#9a9a9a"/><path d="M1642,2198 L1794,2200 L1778,2218 L1642,2216 Z" fill="#888"/>
<g fill="#e03a3a"><circle cx="1240" cy="1965" r="3.5"/><circle cx="1260" cy="1985" r="3.5"/><circle cx="1280" cy="1970" r="3.5"/><circle cx="1300" cy="1990" r="3.5"/><circle cx="1320" cy="1975" r="3.5"/><circle cx="1350" cy="1985" r="3.5"/><circle cx="1370" cy="1970" r="3.5"/><circle cx="1390" cy="1995" r="3.5"/><circle cx="1410" cy="1980" r="3.5"/><circle cx="1255" cy="2000" r="3.5"/><circle cx="1335" cy="2005" r="3.5"/><circle cx="1400" cy="2005" r="3.5"/></g>
<g fill="#5a3a1a"><path d="M1255,2065 L1263,2065 L1262,2005 L1256,2005 Z"/><path d="M1312,2065 L1320,2065 L1319,2005 L1313,2005 Z"/><path d="M1328,2065 L1336,2065 L1335,2005 L1329,2005 Z"/><path d="M1367,2065 L1375,2065 L1374,2005 L1368,2005 Z"/><path d="M1385,2065 L1393,2065 L1392,2005 L1386,2005 Z"/></g>
<path d="M409,1324 L425,1324 L417,1334 Z" fill="#e3911f"/><circle cx="417" cy="1290" r="42" fill="#e3911f"/><circle cx="417" cy="1290" r="32" fill="#ffffff"/><g fill="none" stroke="#9c8f88" stroke-width="3.4"><path d="M389,1306 L445,1306"/><path d="M392,1306 C393,1286 401,1273 417,1273 C433,1273 441,1286 442,1306"/><path d="M389,1286 L399,1278 L435,1278 L445,1286"/><path d="M403,1306 C404,1293 409,1288 417,1288 C425,1288 430,1293 431,1306 M417,1288 L417,1306"/></g>
<path d="M744,1324 L760,1324 L752,1334 Z" fill="#e3911f"/><circle cx="752" cy="1290" r="42" fill="#e3911f"/><circle cx="752" cy="1290" r="32" fill="#ffffff"/><g fill="none" stroke="#9c8f88" stroke-width="3.4"><path d="M724,1306 L780,1306"/><path d="M727,1306 C728,1286 736,1273 752,1273 C768,1273 776,1286 777,1306"/><path d="M724,1286 L734,1278 L770,1278 L780,1286"/><path d="M738,1306 C739,1293 744,1288 752,1288 C760,1288 765,1293 766,1306 M752,1288 L752,1306"/></g>
<path d="M1250,1369 L1266,1369 L1258,1379 Z" fill="#e3911f"/><circle cx="1258" cy="1335" r="42" fill="#e3911f"/><circle cx="1258" cy="1335" r="32" fill="#ffffff"/><g fill="none" stroke="#9c8f88" stroke-width="3.4"><path d="M1230,1351 L1286,1351"/><path d="M1233,1351 C1234,1331 1242,1318 1258,1318 C1274,1318 1282,1331 1283,1351"/><path d="M1230,1331 L1240,1323 L1276,1323 L1286,1331"/><path d="M1244,1351 C1245,1338 1250,1333 1258,1333 C1266,1333 1271,1338 1272,1351 M1258,1333 L1258,1351"/></g>
<path d="M1837,1094 L1853,1094 L1845,1104 Z" fill="#e3911f"/><circle cx="1845" cy="1060" r="42" fill="#e3911f"/><circle cx="1845" cy="1060" r="32" fill="#ffffff"/><g fill="none" stroke="#9c8f88" stroke-width="3.4"><path d="M1817,1076 L1873,1076"/><path d="M1820,1076 C1821,1056 1829,1043 1845,1043 C1861,1043 1869,1056 1870,1076"/><path d="M1817,1056 L1827,1048 L1863,1048 L1873,1056"/><path d="M1831,1076 C1832,1063 1837,1058 1845,1058 C1853,1058 1858,1063 1859,1076 M1845,1058 L1845,1076"/></g>
<path d="M2110,1429 L2126,1429 L2118,1439 Z" fill="#e3911f"/><circle cx="2118" cy="1395" r="42" fill="#e3911f"/><circle cx="2118" cy="1395" r="32" fill="#ffffff"/><g fill="none" stroke="#9c8f88" stroke-width="3.4"><path d="M2090,1411 L2146,1411"/><path d="M2093,1411 C2094,1391 2102,1378 2118,1378 C2134,1378 2142,1391 2143,1411"/><path d="M2090,1391 L2100,1383 L2136,1383 L2146,1391"/><path d="M2104,1411 C2105,1398 2110,1393 2118,1393 C2126,1393 2131,1398 2132,1411 M2118,1393 L2118,1411"/></g>
<path d="M2784,1054 L2800,1054 L2792,1064 Z" fill="#e3911f"/><circle cx="2792" cy="1020" r="42" fill="#e3911f"/><circle cx="2792" cy="1020" r="32" fill="#ffffff"/><g fill="none" stroke="#9c8f88" stroke-width="3.4"><path d="M2764,1036 L2820,1036"/><path d="M2767,1036 C2768,1016 2776,1003 2792,1003 C2808,1003 2816,1016 2817,1036"/><path d="M2764,1016 L2774,1008 L2810,1008 L2820,1016"/><path d="M2778,1036 C2779,1023 2784,1018 2792,1018 C2800,1018 2805,1023 2806,1036 M2792,1018 L2792,1036"/></g>
<path d="M3234,1084 L3250,1084 L3242,1094 Z" fill="#e3911f"/><circle cx="3242" cy="1050" r="42" fill="#e3911f"/><circle cx="3242" cy="1050" r="32" fill="#ffffff"/><g fill="none" stroke="#9c8f88" stroke-width="3.4"><path d="M3214,1066 L3270,1066"/><path d="M3217,1066 C3218,1046 3226,1033 3242,1033 C3258,1033 3266,1046 3267,1066"/><path d="M3214,1046 L3224,1038 L3260,1038 L3270,1046"/><path d="M3228,1066 C3229,1053 3234,1048 3242,1048 C3250,1048 3255,1053 3256,1066 M3242,1048 L3242,1066"/></g>
<path d="M2634,1211 L2650,1211 L2642,1221 Z" fill="#e3911f"/><circle cx="2642" cy="1177" r="42" fill="#e3911f"/><circle cx="2642" cy="1177" r="32" fill="#ffffff"/><g fill="none" stroke="#9c8f88" stroke-width="3.4"><path d="M2614,1193 L2670,1193"/><path d="M2617,1193 C2618,1173 2626,1160 2642,1160 C2658,1160 2666,1173 2667,1193"/><path d="M2614,1173 L2624,1165 L2660,1165 L2670,1173"/><path d="M2628,1193 C2629,1180 2634,1175 2642,1175 C2650,1175 2655,1180 2656,1193 M2642,1175 L2642,1193"/></g>
<path d="M467,1519 L483,1519 L475,1529 Z" fill="#e3911f"/><circle cx="475" cy="1485" r="42" fill="#e3911f"/><circle cx="475" cy="1485" r="32" fill="#ffffff"/><g fill="none" stroke="#9c8f88" stroke-width="3.4"><path d="M447,1501 L503,1501"/><path d="M450,1501 C451,1481 459,1468 475,1468 C491,1468 499,1481 500,1501"/><path d="M447,1481 L457,1473 L493,1473 L503,1481"/><path d="M461,1501 C462,1488 467,1483 475,1483 C483,1483 488,1488 489,1501 M475,1483 L475,1501"/></g>
<path d="M244,1824 L260,1824 L252,1834 Z" fill="#e3911f"/><circle cx="252" cy="1790" r="42" fill="#e3911f"/><circle cx="252" cy="1790" r="32" fill="#ffffff"/><g fill="none" stroke="#9c8f88" stroke-width="3.4"><path d="M224,1806 L280,1806"/><path d="M227,1806 C228,1786 236,1773 252,1773 C268,1773 276,1786 277,1806"/><path d="M224,1786 L234,1778 L270,1778 L280,1786"/><path d="M238,1806 C239,1793 244,1788 252,1788 C260,1788 265,1793 266,1806 M252,1788 L252,1806"/></g>
<path d="M364,1864 L380,1864 L372,1874 Z" fill="#e3911f"/><circle cx="372" cy="1830" r="42" fill="#e3911f"/><circle cx="372" cy="1830" r="32" fill="#ffffff"/><g fill="none" stroke="#9c8f88" stroke-width="3.4"><path d="M344,1846 L400,1846"/><path d="M347,1846 C348,1826 356,1813 372,1813 C388,1813 396,1826 397,1846"/><path d="M344,1826 L354,1818 L390,1818 L400,1826"/><path d="M358,1846 C359,1833 364,1828 372,1828 C380,1828 385,1833 386,1846 M372,1828 L372,1846"/></g>
<path d="M719,1849 L735,1849 L727,1859 Z" fill="#e3911f"/><circle cx="727" cy="1815" r="42" fill="#e3911f"/><circle cx="727" cy="1815" r="32" fill="#ffffff"/><g fill="none" stroke="#9c8f88" stroke-width="3.4"><path d="M699,1831 L755,1831"/><path d="M702,1831 C703,1811 711,1798 727,1798 C743,1798 751,1811 752,1831"/><path d="M699,1811 L709,1803 L745,1803 L755,1811"/><path d="M713,1831 C714,1818 719,1813 727,1813 C735,1813 740,1818 741,1831 M727,1813 L727,1831"/></g>
<path d="M844,1834 L860,1834 L852,1844 Z" fill="#e3911f"/><circle cx="852" cy="1800" r="42" fill="#e3911f"/><circle cx="852" cy="1800" r="32" fill="#ffffff"/><g fill="none" stroke="#9c8f88" stroke-width="3.4"><path d="M824,1816 L880,1816"/><path d="M827,1816 C828,1796 836,1783 852,1783 C868,1783 876,1796 877,1816"/><path d="M824,1796 L834,1788 L870,1788 L880,1796"/><path d="M838,1816 C839,1803 844,1798 852,1798 C860,1798 865,1803 866,1816 M852,1798 L852,1816"/></g>
<path d="M1820,1549 L1836,1549 L1828,1559 Z" fill="#e3911f"/><circle cx="1828" cy="1515" r="42" fill="#e3911f"/><circle cx="1828" cy="1515" r="32" fill="#ffffff"/><g fill="none" stroke="#9c8f88" stroke-width="3.4"><path d="M1800,1531 L1856,1531"/><path d="M1803,1531 C1804,1511 1812,1498 1828,1498 C1844,1498 1852,1511 1853,1531"/><path d="M1800,1511 L1810,1503 L1846,1503 L1856,1511"/><path d="M1814,1531 C1815,1518 1820,1513 1828,1513 C1836,1513 1841,1518 1842,1531 M1828,1513 L1828,1531"/></g>
<path d="M2122,1569 L2138,1569 L2130,1579 Z" fill="#e3911f"/><circle cx="2130" cy="1535" r="42" fill="#e3911f"/><circle cx="2130" cy="1535" r="32" fill="#ffffff"/><g fill="none" stroke="#9c8f88" stroke-width="3.4"><path d="M2102,1551 L2158,1551"/><path d="M2105,1551 C2106,1531 2114,1518 2130,1518 C2146,1518 2154,1531 2155,1551"/><path d="M2102,1531 L2112,1523 L2148,1523 L2158,1531"/><path d="M2116,1551 C2117,1538 2122,1533 2130,1533 C2138,1533 2143,1538 2144,1551 M2130,1533 L2130,1551"/></g>
<path d="M2025,1844 L2041,1844 L2033,1854 Z" fill="#e3911f"/><circle cx="2033" cy="1810" r="42" fill="#e3911f"/><circle cx="2033" cy="1810" r="32" fill="#ffffff"/><g fill="none" stroke="#9c8f88" stroke-width="3.4"><path d="M2005,1826 L2061,1826"/><path d="M2008,1826 C2009,1806 2017,1793 2033,1793 C2049,1793 2057,1806 2058,1826"/><path d="M2005,1806 L2015,1798 L2051,1798 L2061,1806"/><path d="M2019,1826 C2020,1813 2025,1808 2033,1808 C2041,1808 2046,1813 2047,1826 M2033,1808 L2033,1826"/></g>
<circle cx="705" cy="1070" r="42" fill="#8c9a2e"/><circle cx="705" cy="1070" r="32" fill="#ffffff"/><path d="M681,1068 L705,1050 L729,1068 M687,1064 L687,1088 L723,1088 L723,1064" fill="none" stroke="#6b4a2c" stroke-width="4"/><rect x="696" y="1071" width="18" height="10" fill="none" stroke="#6b4a2c" stroke-width="3"/>
<circle cx="1648" cy="1060" r="42" fill="#8c9a2e"/><circle cx="1648" cy="1060" r="32" fill="#ffffff"/><path d="M1624,1058 L1648,1040 L1672,1058 M1630,1054 L1630,1078 L1666,1078 L1666,1054" fill="none" stroke="#6b4a2c" stroke-width="4"/><rect x="1639" y="1061" width="18" height="10" fill="none" stroke="#6b4a2c" stroke-width="3"/>
<circle cx="1378" cy="1345" r="42" fill="#8c9a2e"/><circle cx="1378" cy="1345" r="32" fill="#ffffff"/><path d="M1354,1343 L1378,1325 L1402,1343 M1360,1339 L1360,1363 L1396,1363 L1396,1339" fill="none" stroke="#6b4a2c" stroke-width="4"/><rect x="1369" y="1346" width="18" height="10" fill="none" stroke="#6b4a2c" stroke-width="3"/>
<circle cx="289" cy="1440" r="42" fill="#8c9a2e"/><circle cx="289" cy="1440" r="32" fill="#ffffff"/><path d="M265,1438 L289,1420 L313,1438 M271,1434 L271,1458 L307,1458 L307,1434" fill="none" stroke="#6b4a2c" stroke-width="4"/><rect x="280" y="1441" width="18" height="10" fill="none" stroke="#6b4a2c" stroke-width="3"/>
<circle cx="2412" cy="1395" r="42" fill="#dc5c0c"/><circle cx="2412" cy="1395" r="32" fill="#ffffff"/><path d="M2388,1389 L2436,1389 L2434,1411 L2392,1411 Z M2398,1389 L2398,1381 M2404,1399 L2404,1411 M2418,1399 L2418,1411" fill="none" stroke="#4a2c1c" stroke-width="3.5"/>
<circle cx="1838" cy="2214" r="42" fill="#dc5c0c"/><circle cx="1838" cy="2214" r="32" fill="#ffffff"/><path d="M1814,2208 L1862,2208 L1860,2230 L1818,2230 Z M1824,2208 L1824,2200 M1830,2218 L1830,2230 M1844,2218 L1844,2230" fill="none" stroke="#4a2c1c" stroke-width="3.5"/>
<circle cx="1963" cy="1225" r="42" fill="#e67ddc"/><circle cx="1963" cy="1225" r="32" fill="#ffffff"/><g fill="none" stroke="#111" stroke-width="3"><path d="M1939,1241 L1939,1229 A24 22 0 0 1 1987,1229 L1987,1241 Z"/><path d="M1939,1229 L1987,1229 M1943,1217 L1983,1217 M1945,1214 L1963,1229 L1981,1214 M1955,1208 L1971,1229 M1971,1208 L1955,1229 M1939,1229 L1955,1208 M1987,1229 L1971,1208"/></g><rect x="1958" y="1232" width="10" height="9" fill="none" stroke="#111" stroke-width="2.5"/>
<circle cx="1600" cy="1895" r="42" fill="#e67ddc"/><circle cx="1600" cy="1895" r="32" fill="#ffffff"/><g fill="none" stroke="#111" stroke-width="3"><path d="M1576,1911 L1576,1899 A24 22 0 0 1 1624,1899 L1624,1911 Z"/><path d="M1576,1899 L1624,1899 M1580,1887 L1620,1887 M1582,1884 L1600,1899 L1618,1884 M1592,1878 L1608,1899 M1608,1878 L1592,1899 M1576,1899 L1592,1878 M1624,1899 L1608,1878"/></g><rect x="1595" y="1902" width="10" height="9" fill="none" stroke="#111" stroke-width="2.5"/>
<rect x="426.0" y="1026.0" width="48" height="48" rx="6" fill="#30288a"/><text x="449" y="1062" text-anchor="middle" font-family="Liberation Sans" font-weight="bold" font-size="34" fill="#fff">P</text>
<rect x="241.0" y="1103.0" width="48" height="48" rx="6" fill="#30288a"/><text x="264" y="1139" text-anchor="middle" font-family="Liberation Sans" font-weight="bold" font-size="34" fill="#fff">P</text>
<rect x="294.0" y="1346.0" width="48" height="48" rx="6" fill="#30288a"/><text x="317" y="1382" text-anchor="middle" font-family="Liberation Sans" font-weight="bold" font-size="34" fill="#fff">P</text>
<rect x="264.0" y="1881.0" width="48" height="48" rx="6" fill="#30288a"/><text x="287" y="1917" text-anchor="middle" font-family="Liberation Sans" font-weight="bold" font-size="34" fill="#fff">P</text>
<rect x="1876.0" y="1368.0" width="48" height="48" rx="6" fill="#30288a"/><text x="1899" y="1404" text-anchor="middle" font-family="Liberation Sans" font-weight="bold" font-size="34" fill="#fff">P</text>
<rect x="2179.0" y="1498.0" width="48" height="48" rx="6" fill="#30288a"/><text x="2202" y="1534" text-anchor="middle" font-family="Liberation Sans" font-weight="bold" font-size="34" fill="#fff">P</text>
<rect x="1354.0" y="1863.0" width="48" height="48" rx="6" fill="#30288a"/><text x="1377" y="1899" text-anchor="middle" font-family="Liberation Sans" font-weight="bold" font-size="34" fill="#fff">P</text>
<rect x="1507.0" y="2110.0" width="48" height="48" rx="6" fill="#30288a"/><text x="1530" y="2146" text-anchor="middle" font-family="Liberation Sans" font-weight="bold" font-size="34" fill="#fff">P</text>
<rect x="2500.0" y="1431.0" width="48" height="48" rx="6" fill="#30288a"/><text x="2523" y="1467" text-anchor="middle" font-family="Liberation Sans" font-weight="bold" font-size="34" fill="#fff">P</text>
<rect x="3296.0" y="1026.0" width="48" height="48" rx="6" fill="#30288a"/><text x="3319" y="1062" text-anchor="middle" font-family="Liberation Sans" font-weight="bold" font-size="34" fill="#fff">P</text>
<rect x="485" y="1025" width="50" height="50" fill="#30288a"/><circle cx="502" cy="1039" r="4.5" fill="#fff"/><circle cx="518" cy="1039" r="4.5" fill="#fff"/><path d="M497,1045 h10 v17 h-3 v4 h-4 v-4 h-3 Z M513,1045 h10 v10 l2,7 h-4 v4 h-6 v-4 h-4 l2,-7 Z" fill="#fff"/>
<rect x="468" y="1355" width="50" height="50" fill="#30288a"/><circle cx="485" cy="1369" r="4.5" fill="#fff"/><circle cx="501" cy="1369" r="4.5" fill="#fff"/><path d="M480,1375 h10 v17 h-3 v4 h-4 v-4 h-3 Z M496,1375 h10 v10 l2,7 h-4 v4 h-6 v-4 h-4 l2,-7 Z" fill="#fff"/>
<rect x="214" y="1837" width="50" height="50" fill="#30288a"/><circle cx="231" cy="1851" r="4.5" fill="#fff"/><circle cx="247" cy="1851" r="4.5" fill="#fff"/><path d="M226,1857 h10 v17 h-3 v4 h-4 v-4 h-3 Z M242,1857 h10 v10 l2,7 h-4 v4 h-6 v-4 h-4 l2,-7 Z" fill="#fff"/>
<rect x="1703" y="1435" width="50" height="50" fill="#30288a"/><circle cx="1720" cy="1449" r="4.5" fill="#fff"/><circle cx="1736" cy="1449" r="4.5" fill="#fff"/><path d="M1715,1455 h10 v17 h-3 v4 h-4 v-4 h-3 Z M1731,1455 h10 v10 l2,7 h-4 v4 h-6 v-4 h-4 l2,-7 Z" fill="#fff"/>
<rect x="3270" y="970" width="50" height="50" fill="#30288a"/><circle cx="3287" cy="984" r="4.5" fill="#fff"/><circle cx="3303" cy="984" r="4.5" fill="#fff"/><path d="M3282,990 h10 v17 h-3 v4 h-4 v-4 h-3 Z M3298,990 h10 v10 l2,7 h-4 v4 h-6 v-4 h-4 l2,-7 Z" fill="#fff"/>
<rect x="1034" y="1846" width="96" height="48" fill="#30288a"/><circle cx="1050" cy="1859" r="4.5" fill="#fff"/><circle cx="1066" cy="1859" r="4.5" fill="#fff"/><path d="M1045,1865 h10 v17 h-3 v4 h-4 v-4 h-3 Z M1061,1865 h10 v10 l2,7 h-4 v4 h-6 v-4 h-4 l2,-7 Z" fill="#fff"/><path d="M1098,1886 L1098,1862 Q1098,1854 1106,1854 L1110,1856" fill="none" stroke="#fff" stroke-width="4"/><path d="M1106,1862 Q1114,1852 1120,1866 Z" fill="#fff"/><g fill="#fff"><circle cx="1112" cy="1872" r="1.6"/><circle cx="1118" cy="1874" r="1.6"/><circle cx="1114" cy="1879" r="1.6"/><circle cx="1120" cy="1881" r="1.6"/></g>
<rect x="1700" y="1348" width="96" height="48" fill="#30288a"/><circle cx="1716" cy="1361" r="4.5" fill="#fff"/><circle cx="1732" cy="1361" r="4.5" fill="#fff"/><path d="M1711,1367 h10 v17 h-3 v4 h-4 v-4 h-3 Z M1727,1367 h10 v10 l2,7 h-4 v4 h-6 v-4 h-4 l2,-7 Z" fill="#fff"/><path d="M1764,1388 L1764,1364 Q1764,1356 1772,1356 L1776,1358" fill="none" stroke="#fff" stroke-width="4"/><path d="M1772,1364 Q1780,1354 1786,1368 Z" fill="#fff"/><g fill="#fff"><circle cx="1778" cy="1374" r="1.6"/><circle cx="1784" cy="1376" r="1.6"/><circle cx="1780" cy="1381" r="1.6"/><circle cx="1786" cy="1383" r="1.6"/></g>
<rect x="1467" y="1906" width="96" height="48" fill="#30288a"/><circle cx="1483" cy="1919" r="4.5" fill="#fff"/><circle cx="1499" cy="1919" r="4.5" fill="#fff"/><path d="M1478,1925 h10 v17 h-3 v4 h-4 v-4 h-3 Z M1494,1925 h10 v10 l2,7 h-4 v4 h-6 v-4 h-4 l2,-7 Z" fill="#fff"/><path d="M1531,1946 L1531,1922 Q1531,1914 1539,1914 L1543,1916" fill="none" stroke="#fff" stroke-width="4"/><path d="M1539,1922 Q1547,1912 1553,1926 Z" fill="#fff"/><g fill="#fff"><circle cx="1545" cy="1932" r="1.6"/><circle cx="1551" cy="1934" r="1.6"/><circle cx="1547" cy="1939" r="1.6"/><circle cx="1553" cy="1941" r="1.6"/></g>
<rect x="2532" y="1376" width="96" height="48" fill="#30288a"/><circle cx="2548" cy="1389" r="4.5" fill="#fff"/><circle cx="2564" cy="1389" r="4.5" fill="#fff"/><path d="M2543,1395 h10 v17 h-3 v4 h-4 v-4 h-3 Z M2559,1395 h10 v10 l2,7 h-4 v4 h-6 v-4 h-4 l2,-7 Z" fill="#fff"/><path d="M2596,1416 L2596,1392 Q2596,1384 2604,1384 L2608,1386" fill="none" stroke="#fff" stroke-width="4"/><path d="M2604,1392 Q2612,1382 2618,1396 Z" fill="#fff"/><g fill="#fff"><circle cx="2610" cy="1402" r="1.6"/><circle cx="2616" cy="1404" r="1.6"/><circle cx="2612" cy="1409" r="1.6"/><circle cx="2618" cy="1411" r="1.6"/></g>
<rect x="2637.5" y="1028.5" width="47" height="47" fill="#ef7f0e"/><path d="M2651,1048 q0,12 12,10 q10,-2 8,-14 l4,-2 l-4,-2 q-4,-4 -8,0 q4,8 -4,10 q-6,0 -8,-2 Z M2657,1058 v8 M2667,1058 v8 M2649,1067 h24" fill="none" stroke="#fff" stroke-width="2.5"/>
<rect x="2637.5" y="1228.5" width="47" height="47" fill="#ef7f0e"/><path d="M2645,1252 L2677,1252 L2673,1260 L2649,1260 Z M2651,1238 L2669,1256 M2673,1238 L2655,1256 M2643,1264 q4,-3 8,0 q4,3 8,0 q4,-3 8,0 q4,3 8,0" fill="none" stroke="#fff" stroke-width="2.5"/>
<rect x="2785.5" y="1361.5" width="47" height="47" fill="#ef7f0e"/><path d="M2793,1385 L2825,1385 L2821,1393 L2797,1393 Z M2799,1371 L2817,1389 M2821,1371 L2803,1389 M2791,1397 q4,-3 8,0 q4,3 8,0 q4,-3 8,0 q4,3 8,0" fill="none" stroke="#fff" stroke-width="2.5"/>
<rect x="1601.5" y="1301.5" width="47" height="47" fill="#ef7f0e"/><path d="M1609,1325 L1641,1325 L1637,1333 L1613,1333 Z M1615,1311 L1633,1329 M1637,1311 L1619,1329 M1607,1337 q4,-3 8,0 q4,3 8,0 q4,-3 8,0 q4,3 8,0" fill="none" stroke="#fff" stroke-width="2.5"/>
<rect x="221.5" y="1691.5" width="47" height="47" fill="#ef7f0e"/><path d="M229,1715 L261,1715 L257,1723 L233,1723 Z M235,1701 L253,1719 M257,1701 L239,1719 M227,1727 q4,-3 8,0 q4,3 8,0 q4,-3 8,0 q4,3 8,0" fill="none" stroke="#fff" stroke-width="2.5"/>
<rect x="1094.5" y="1548.5" width="47" height="47" fill="#ef7f0e"/><path d="M1102,1572 L1134,1572 L1130,1580 L1106,1580 Z M1108,1558 L1126,1576 M1130,1558 L1112,1576 M1100,1584 q4,-3 8,0 q4,3 8,0 q4,-3 8,0 q4,3 8,0" fill="none" stroke="#fff" stroke-width="2.5"/>
<rect x="1705.5" y="1761.5" width="47" height="47" fill="#ef7f0e"/><path d="M1713,1785 L1745,1785 L1741,1793 L1717,1793 Z M1719,1771 L1737,1789 M1741,1771 L1723,1789 M1711,1797 q4,-3 8,0 q4,3 8,0 q4,-3 8,0 q4,3 8,0" fill="none" stroke="#fff" stroke-width="2.5"/>
<rect x="1709.5" y="2030.5" width="47" height="47" fill="#ef7f0e"/><path transform="translate(1733,2054)" d="M-15,1 L-11,-4 C-8,-6 -5,-5 -3,-2 L-6,-8 L-3,-13 L1,-5 L13,-14 C14,-4 10,3 4,6 L8,12 L1,13 C-5,11 -9,6 -11,2 Z" fill="#fff"/>
<rect x="1263.5" y="2010.5" width="47" height="47" fill="#ef7f0e"/><circle cx="1286" cy="2038" r="13" fill="#fff"/><path d="M1289,2025 q6,-8 14,-6 q-4,8 -14,6" fill="#fff"/>
<rect x="1081.5" y="1901.5" width="47" height="47" fill="#ef7f0e"/><path d="M1099,1919 L1111,1919 L1105,1943 Z" fill="#fff"/><path d="M1105,1917 l-5,-10 M1105,1917 l5,-10 M1105,1917 v-12" stroke="#fff" stroke-width="3"/>
<rect x="849.5" y="1932.5" width="47" height="47" fill="#ef7f0e"/><g fill="#fff"><circle cx="865" cy="1946" r="4"/><circle cx="871" cy="1944" r="4"/><circle cx="877" cy="1943" r="4"/><circle cx="867" cy="1952" r="4"/><circle cx="873" cy="1951" r="4"/><circle cx="879" cy="1949" r="4"/><circle cx="868" cy="1958" r="4"/><circle cx="874" cy="1957" r="4"/><circle cx="870" cy="1964" r="4"/><circle cx="876" cy="1963" r="4"/><circle cx="872" cy="1970" r="4"/><path d="M875,1942 l4,-7 l4,3 Z"/></g>
<rect x="1137.5" y="1995.5" width="47" height="47" fill="#ef7f0e"/><g fill="#fff"><circle cx="1153" cy="2009" r="4"/><circle cx="1159" cy="2007" r="4"/><circle cx="1165" cy="2006" r="4"/><circle cx="1155" cy="2015" r="4"/><circle cx="1161" cy="2014" r="4"/><circle cx="1167" cy="2012" r="4"/><circle cx="1156" cy="2021" r="4"/><circle cx="1162" cy="2020" r="4"/><circle cx="1158" cy="2027" r="4"/><circle cx="1164" cy="2026" r="4"/><circle cx="1160" cy="2033" r="4"/><path d="M1163,2005 l4,-7 l4,3 Z"/></g>
<circle cx="1673" cy="1307" r="24" fill="#f1d97a"/><circle cx="1673" cy="1307" r="16.799999999999997" fill="#fff"/><path d="M1673,1307 L1689.5,1309.9 A16.799999999999997 16.799999999999997 0 0 1 1682.6,1320.8 Z" fill="#e8385e"/><path d="M1673,1307 L1670.1,1323.5 A16.799999999999997 16.799999999999997 0 0 1 1659.2,1316.6 Z" fill="#e8385e"/><path d="M1673,1307 L1656.5,1304.1 A16.799999999999997 16.799999999999997 0 0 1 1663.4,1293.2 Z" fill="#e8385e"/><path d="M1673,1307 L1675.9,1290.5 A16.799999999999997 16.799999999999997 0 0 1 1686.8,1297.4 Z" fill="#e8385e"/>
<circle cx="1150" cy="1623" r="24" fill="#f1d97a"/><circle cx="1150" cy="1623" r="16.799999999999997" fill="#fff"/><path d="M1150,1623 L1166.5,1625.9 A16.799999999999997 16.799999999999997 0 0 1 1159.6,1636.8 Z" fill="#e8385e"/><path d="M1150,1623 L1147.1,1639.5 A16.799999999999997 16.799999999999997 0 0 1 1136.2,1632.6 Z" fill="#e8385e"/><path d="M1150,1623 L1133.5,1620.1 A16.799999999999997 16.799999999999997 0 0 1 1140.4,1609.2 Z" fill="#e8385e"/><path d="M1150,1623 L1152.9,1606.5 A16.799999999999997 16.799999999999997 0 0 1 1163.8,1613.4 Z" fill="#e8385e"/>
<circle cx="3165" cy="1280" r="24" fill="#f1d97a"/><circle cx="3165" cy="1280" r="16.799999999999997" fill="#fff"/><path d="M3165,1280 L3181.5,1282.9 A16.799999999999997 16.799999999999997 0 0 1 3174.6,1293.8 Z" fill="#e8385e"/><path d="M3165,1280 L3162.1,1296.5 A16.799999999999997 16.799999999999997 0 0 1 3151.2,1289.6 Z" fill="#e8385e"/><path d="M3165,1280 L3148.5,1277.1 A16.799999999999997 16.799999999999997 0 0 1 3155.4,1266.2 Z" fill="#e8385e"/><path d="M3165,1280 L3167.9,1263.5 A16.799999999999997 16.799999999999997 0 0 1 3178.8,1270.4 Z" fill="#e8385e"/>
<circle cx="2715" cy="1255" r="27" fill="#f5a400"/><circle cx="2719" cy="1247" r="10.8" fill="none" stroke="#fff" stroke-width="2.5"/><circle cx="2708" cy="1260" r="10.8" fill="none" stroke="#fff" stroke-width="2.5"/><circle cx="2728" cy="1268" r="3.7800000000000002" fill="none" stroke="#fff" stroke-width="2"/>
<circle cx="1631" cy="2036" r="27" fill="#f5a400"/><circle cx="1635" cy="2028" r="10.8" fill="none" stroke="#fff" stroke-width="2.5"/><circle cx="1624" cy="2041" r="10.8" fill="none" stroke="#fff" stroke-width="2.5"/><circle cx="1644" cy="2049" r="3.7800000000000002" fill="none" stroke="#fff" stroke-width="2"/>
<circle cx="1853" cy="1380" r="27" fill="#f5a400"/><circle cx="1857" cy="1372" r="10.8" fill="none" stroke="#fff" stroke-width="2.5"/><circle cx="1846" cy="1385" r="10.8" fill="none" stroke="#fff" stroke-width="2.5"/><circle cx="1866" cy="1393" r="3.7800000000000002" fill="none" stroke="#fff" stroke-width="2"/>
<circle cx="1605" cy="2154" r="37" fill="#17a050"/><path d="M1587,2174 L1587,2150 Q1587,2144 1593,2142 L1593,2132 L1599,2132 L1599,2142 Q1605,2144 1605,2150 L1605,2174 Z" fill="none" stroke="#111" stroke-width="2.5"/><circle cx="1615" cy="2162" r="11" fill="none" stroke="#111" stroke-width="2.5"/>
<g transform="translate(1358,1805) scale(1.0)"><path d="M0,20 C-10,12 -26,2 -26,-8 C-26,-18 -18,-22 -12,-22 C-6,-22 -2,-18 0,-14 C2,-18 6,-22 12,-22 C18,-22 26,-18 26,-8 C26,2 10,12 0,20 Z" fill="#3db82c"/><path d="M3,-16 L-7,2 L-1,2 L-4,14 L7,-4 L1,-4 Z" fill="#fff"/></g>
<g transform="translate(1718,1835) scale(1.0)"><path d="M0,20 C-10,12 -26,2 -26,-8 C-26,-18 -18,-22 -12,-22 C-6,-22 -2,-18 0,-14 C2,-18 6,-22 12,-22 C18,-22 26,-18 26,-8 C26,2 10,12 0,20 Z" fill="#3db82c"/><path d="M3,-16 L-7,2 L-1,2 L-4,14 L7,-4 L1,-4 Z" fill="#fff"/></g>
<circle cx="2652" cy="1307" r="37" fill="#fff"/><circle cx="2652" cy="1307" r="29.5" fill="#1ddff0"/><path d="M2647,1291 C2640,1301 2636,1307 2636,1313 A11 11 0 0 0 2658,1313 C2658,1307 2654,1301 2647,1291 Z M2659,1289 C2654,1297 2653,1301 2654,1305 M2659,1289 C2664,1297 2668,1303 2668,1308 A8 8 0 0 1 2658,1315" fill="none" stroke="#111" stroke-width="2.5"/>
<path d="M284,1175 L548,1175 L530,1233 L266,1233 Z" fill="#000" opacity="0.35"/><path d="M278,1167 L542,1167 L524,1225 L260,1225 Z" fill="#f8f4d8"/><text x="401.0" y="1209.0" text-anchor="middle" class="scr" font-size="40" fill="#34288a" textLength="192" lengthAdjust="spacingAndGlyphs">Etang la Roselière</text>
<path d="M969,1175 L1237,1175 L1219,1233 L951,1233 Z" fill="#000" opacity="0.35"/><path d="M963,1167 L1231,1167 L1213,1225 L945,1225 Z" fill="#f8f4d8"/><text x="1088.0" y="1209.0" text-anchor="middle" class="scr" font-size="40" fill="#34288a" textLength="194" lengthAdjust="spacingAndGlyphs">Etang Palmyre</text>
<path d="M1934,1128 L2196,1128 L2178,1188 L1916,1188 Z" fill="#000" opacity="0.35"/><path d="M1928,1120 L2190,1120 L2172,1180 L1910,1180 Z" fill="#f8f4d8"/><text x="2050.0" y="1163.0" text-anchor="middle" class="scr" font-size="40" fill="#34288a" textLength="190" lengthAdjust="spacingAndGlyphs">Etang Idylle</text>
<path d="M2899,1178 L3136,1178 L3118,1235 L2881,1235 Z" fill="#000" opacity="0.35"/><path d="M2893,1170 L3130,1170 L3112,1227 L2875,1227 Z" fill="#f8f4d8"/><text x="3002.5" y="1211.5" text-anchor="middle" class="scr" font-size="40" fill="#34288a" textLength="173" lengthAdjust="spacingAndGlyphs">Etang Arôme</text>
<path d="M216,1613 L446,1613 L428,1673 L198,1673 Z" fill="#000" opacity="0.35"/><path d="M210,1605 L440,1605 L422,1665 L192,1665 Z" fill="#f8f4d8"/><text x="316.0" y="1648.0" text-anchor="middle" class="scr" font-size="40" fill="#34288a" textLength="169" lengthAdjust="spacingAndGlyphs">Etang Sauvage</text>
<path d="M814,1643 L1036,1643 L1018,1703 L796,1703 Z" fill="#000" opacity="0.35"/><path d="M808,1635 L1030,1635 L1012,1695 L790,1695 Z" fill="#f8f4d8"/><text x="910.0" y="1678.0" text-anchor="middle" class="scr" font-size="40" fill="#34288a" textLength="163" lengthAdjust="spacingAndGlyphs">Etang Atoll</text>
<path d="M1744,1673 L1986,1673 L1968,1730 L1726,1730 Z" fill="#000" opacity="0.35"/><path d="M1738,1665 L1980,1665 L1962,1722 L1720,1722 Z" fill="#f8f4d8"/><text x="1850.0" y="1706.5" text-anchor="middle" class="scr" font-size="40" fill="#34288a" textLength="177" lengthAdjust="spacingAndGlyphs">Etang  Lagon</text>
<path d="M1374,1498 L1554,1498 L1536,1558 L1356,1558 Z" fill="#000" opacity="0.35"/><path d="M1368,1490 L1548,1490 L1530,1550 L1350,1550 Z" fill="#d0e8ee"/><text x="1449.0" y="1533.0" text-anchor="middle" class="scr" font-size="40" fill="#34288a" textLength="135" lengthAdjust="spacingAndGlyphs">Le bassin</text>
<path d="M1244,1703 L1426,1703 L1408,1763 L1226,1763 Z" fill="#000" opacity="0.35"/><path d="M1238,1695 L1420,1695 L1402,1755 L1220,1755 Z" fill="#d0e8ee"/><text x="1320.0" y="1738.0" text-anchor="middle" class="scr" font-size="40" fill="#34288a" textLength="136" lengthAdjust="spacingAndGlyphs">La lagune</text>
<path d="M1232,1575 L1331,1575 L1313,1635 L1214,1635 Z" fill="#000" opacity="0.35"/><path d="M1226,1567 L1325,1567 L1307,1627 L1208,1627 Z" fill="#fbbd3a"/><text x="1266.5" y="1610.0" text-anchor="middle" class="scr" font-size="40" fill="#34288a" textLength="80" lengthAdjust="spacingAndGlyphs">Bali</text>
<text x="715.0" y="1120" text-anchor="middle" class="scr" font-size="35" fill="#1a1a1a" stroke="#fff" stroke-width="8" paint-order="stroke" stroke-linejoin="round" textLength="280" lengthAdjust="spacingAndGlyphs">Cabane sur pilotis Roseau</text>
<text x="208.5" y="1298" text-anchor="middle" class="scr" font-size="35" fill="#1a1a1a" stroke="#fff" stroke-width="8" paint-order="stroke" stroke-linejoin="round" textLength="227" lengthAdjust="spacingAndGlyphs">Pavillon la Roselière</text>
<text x="422.5" y="1345" text-anchor="middle" class="scr" font-size="35" fill="#1a1a1a" stroke="#fff" stroke-width="8" paint-order="stroke" stroke-linejoin="round" textLength="135" lengthAdjust="spacingAndGlyphs">Bulle Agate</text>
<text x="764.5" y="1346" text-anchor="middle" class="scr" font-size="35" fill="#1a1a1a" stroke="#fff" stroke-width="8" paint-order="stroke" stroke-linejoin="round" textLength="135" lengthAdjust="spacingAndGlyphs">Bulle Nacre</text>
<text x="1625.0" y="970" text-anchor="middle" class="scr" font-size="35" fill="#1a1a1a" stroke="#fff" stroke-width="8" paint-order="stroke" stroke-linejoin="round" textLength="180" lengthAdjust="spacingAndGlyphs">Cabane sur l'eau</text>
<text x="1626.5" y="1012" text-anchor="middle" class="scr" font-size="35" fill="#1a1a1a" stroke="#fff" stroke-width="8" paint-order="stroke" stroke-linejoin="round" textLength="93" lengthAdjust="spacingAndGlyphs">Jacinthe</text>
<text x="1853.0" y="1117" text-anchor="middle" class="scr" font-size="35" fill="#1a1a1a" stroke="#fff" stroke-width="8" paint-order="stroke" stroke-linejoin="round" textLength="140" lengthAdjust="spacingAndGlyphs">Bulle Topaze</text>
<text x="1375.0" y="1262" text-anchor="middle" class="scr" font-size="35" fill="#1a1a1a" stroke="#fff" stroke-width="8" paint-order="stroke" stroke-linejoin="round" textLength="180" lengthAdjust="spacingAndGlyphs">Cabane sur l'eau</text>
<text x="1378.0" y="1305" text-anchor="middle" class="scr" font-size="35" fill="#1a1a1a" stroke="#fff" stroke-width="8" paint-order="stroke" stroke-linejoin="round" textLength="110" lengthAdjust="spacingAndGlyphs">Nénuphar</text>
<text x="1265.0" y="1385" text-anchor="middle" class="scr" font-size="35" fill="#1a1a1a" stroke="#fff" stroke-width="8" paint-order="stroke" stroke-linejoin="round" textLength="130" lengthAdjust="spacingAndGlyphs">Bulle Perle</text>
<text x="1560.0" y="1405" text-anchor="middle" class="scr" font-size="35" fill="#1a1a1a" stroke="#fff" stroke-width="8" paint-order="stroke" stroke-linejoin="round" textLength="140" lengthAdjust="spacingAndGlyphs">Lodge Lotus</text>
<text x="1789.0" y="1320" text-anchor="middle" class="scr" font-size="35" fill="#1a1a1a" stroke="#fff" stroke-width="8" paint-order="stroke" stroke-linejoin="round" textLength="162" lengthAdjust="spacingAndGlyphs">Lodge Nymphe</text>
<text x="1954.0" y="1281" text-anchor="middle" class="scr" font-size="35" fill="#1a1a1a" stroke="#fff" stroke-width="8" paint-order="stroke" stroke-linejoin="round" textLength="128" lengthAdjust="spacingAndGlyphs">Dôme étoilé</text>
<text x="1953.0" y="1325" text-anchor="middle" class="scr" font-size="35" fill="#1a1a1a" stroke="#fff" stroke-width="8" paint-order="stroke" stroke-linejoin="round" textLength="70" lengthAdjust="spacingAndGlyphs">sur île</text>
<text x="2794.5" y="1072" text-anchor="middle" class="scr" font-size="35" fill="#1a1a1a" stroke="#fff" stroke-width="8" paint-order="stroke" stroke-linejoin="round" textLength="145" lengthAdjust="spacingAndGlyphs">Bulle Ambre</text>
<text x="2546.0" y="1138" text-anchor="middle" class="scr" font-size="35" fill="#1a1a1a" stroke="#fff" stroke-width="8" paint-order="stroke" stroke-linejoin="round" textLength="148" lengthAdjust="spacingAndGlyphs">Lodge Utopie</text>
<text x="3237.5" y="1097" text-anchor="middle" class="scr" font-size="35" fill="#1a1a1a" stroke="#fff" stroke-width="8" paint-order="stroke" stroke-linejoin="round" textLength="175" lengthAdjust="spacingAndGlyphs">Bulle Emeraude</text>
<text x="2649.5" y="1230" text-anchor="middle" class="scr" font-size="35" fill="#1a1a1a" stroke="#fff" stroke-width="8" paint-order="stroke" stroke-linejoin="round" textLength="135" lengthAdjust="spacingAndGlyphs">Bulle Opale</text>
<text x="2710.0" y="1430" text-anchor="middle" class="scr" font-size="35" fill="#1a1a1a" stroke="#fff" stroke-width="8" paint-order="stroke" stroke-linejoin="round" textLength="130" lengthAdjust="spacingAndGlyphs">Club House</text>
<text x="284.5" y="1490" text-anchor="middle" class="scr" font-size="35" fill="#1a1a1a" stroke="#fff" stroke-width="8" paint-order="stroke" stroke-linejoin="round" textLength="195" lengthAdjust="spacingAndGlyphs">Cabane sur pilotis</text>
<text x="283.5" y="1535" text-anchor="middle" class="scr" font-size="35" fill="#1a1a1a" stroke="#fff" stroke-width="8" paint-order="stroke" stroke-linejoin="round" textLength="93" lengthAdjust="spacingAndGlyphs">Sauvage</text>
<text x="479.5" y="1540" text-anchor="middle" class="scr" font-size="35" fill="#1a1a1a" stroke="#fff" stroke-width="8" paint-order="stroke" stroke-linejoin="round" textLength="145" lengthAdjust="spacingAndGlyphs">Bulle Acacia</text>
<text x="259.5" y="1757" text-anchor="middle" class="scr" font-size="35" fill="#1a1a1a" stroke="#fff" stroke-width="8" paint-order="stroke" stroke-linejoin="round" textLength="155" lengthAdjust="spacingAndGlyphs">Bulle Charme</text>
<text x="383.5" y="1880" text-anchor="middle" class="scr" font-size="35" fill="#1a1a1a" stroke="#fff" stroke-width="8" paint-order="stroke" stroke-linejoin="round" textLength="157" lengthAdjust="spacingAndGlyphs">Bulle Bambou</text>
<text x="563.5" y="1912" text-anchor="middle" class="scr" font-size="35" fill="#1a1a1a" stroke="#fff" stroke-width="8" paint-order="stroke" stroke-linejoin="round" textLength="133" lengthAdjust="spacingAndGlyphs">lodge Corail</text>
<text x="704.5" y="1858" text-anchor="middle" class="scr" font-size="35" fill="#1a1a1a" stroke="#fff" stroke-width="8" paint-order="stroke" stroke-linejoin="round" textLength="155" lengthAdjust="spacingAndGlyphs">Bulle Crystal</text>
<text x="878.5" y="1843" text-anchor="middle" class="scr" font-size="35" fill="#1a1a1a" stroke="#fff" stroke-width="8" paint-order="stroke" stroke-linejoin="round" textLength="163" lengthAdjust="spacingAndGlyphs">Bulle Diamant</text>
<text x="1028.5" y="1805" text-anchor="middle" class="scr" font-size="35" fill="#1a1a1a" stroke="#fff" stroke-width="8" paint-order="stroke" stroke-linejoin="round" textLength="147" lengthAdjust="spacingAndGlyphs">lodge Moorea</text>
<text x="901.0" y="1517" text-anchor="middle" class="scr" font-size="35" fill="#1a1a1a" stroke="#fff" stroke-width="8" paint-order="stroke" stroke-linejoin="round" textLength="122" lengthAdjust="spacingAndGlyphs">lodge Récif</text>
<text x="1850.0" y="1570" text-anchor="middle" class="scr" font-size="35" fill="#1a1a1a" stroke="#fff" stroke-width="8" paint-order="stroke" stroke-linejoin="round" textLength="140" lengthAdjust="spacingAndGlyphs">Bulle Rubis</text>
<text x="2129.0" y="1583" text-anchor="middle" class="scr" font-size="35" fill="#1a1a1a" stroke="#fff" stroke-width="8" paint-order="stroke" stroke-linejoin="round" textLength="148" lengthAdjust="spacingAndGlyphs">Bulle Saphir</text>
<text x="1645.0" y="1793" text-anchor="middle" class="scr" font-size="35" fill="#1a1a1a" stroke="#fff" stroke-width="8" paint-order="stroke" stroke-linejoin="round" textLength="110" lengthAdjust="spacingAndGlyphs">Réception</text>
<text x="1473.0" y="1800" text-anchor="middle" class="scr" font-size="35" fill="#1a1a1a" stroke="#fff" stroke-width="8" paint-order="stroke" stroke-linejoin="round" textLength="190" lengthAdjust="spacingAndGlyphs">Villa Carpe Diem</text>
<text x="1629.0" y="1953" text-anchor="middle" class="scr" font-size="35" fill="#1a1a1a" stroke="#fff" stroke-width="8" paint-order="stroke" stroke-linejoin="round" textLength="102" lengthAdjust="spacingAndGlyphs">Le Dôme</text>
<text x="1792.5" y="2008" text-anchor="middle" class="scr" font-size="35" fill="#1a1a1a" stroke="#fff" stroke-width="8" paint-order="stroke" stroke-linejoin="round" textLength="175" lengthAdjust="spacingAndGlyphs">lodge Le Chalet</text>
<text x="2035.0" y="1857" text-anchor="middle" class="scr" font-size="35" fill="#1a1a1a" stroke="#fff" stroke-width="8" paint-order="stroke" stroke-linejoin="round" textLength="120" lengthAdjust="spacingAndGlyphs">Bulle Jade</text>
<text x="2129.0" y="1447" text-anchor="middle" class="scr" font-size="35" fill="#1a1a1a" stroke="#fff" stroke-width="8" paint-order="stroke" stroke-linejoin="round" textLength="128" lengthAdjust="spacingAndGlyphs">Bulle Luna</text>
<text x="2405.0" y="1450" text-anchor="middle" class="scr" font-size="35" fill="#1a1a1a" stroke="#fff" stroke-width="8" paint-order="stroke" stroke-linejoin="round" textLength="130" lengthAdjust="spacingAndGlyphs">Cabane Tipi</text>
<text x="2403.5" y="1482" text-anchor="middle" class="scr" font-size="35" fill="#1a1a1a" stroke="#fff" stroke-width="8" paint-order="stroke" stroke-linejoin="round" textLength="43" lengthAdjust="spacingAndGlyphs">Iris</text>
<text x="2963.5" y="1493" text-anchor="middle" class="scr" font-size="35" fill="#1a1a1a" stroke="#fff" stroke-width="8" paint-order="stroke" stroke-linejoin="round" textLength="143" lengthAdjust="spacingAndGlyphs">lodge Ondine</text>
<text x="1769.0" y="2180" text-anchor="middle" class="scr" font-size="35" fill="#1a1a1a" stroke="#fff" stroke-width="8" paint-order="stroke" stroke-linejoin="round" textLength="92" lengthAdjust="spacingAndGlyphs">Hangar</text>
<text x="1915.0" y="2176" text-anchor="middle" class="scr" font-size="35" fill="#1a1a1a" stroke="#fff" stroke-width="8" paint-order="stroke" stroke-linejoin="round" textLength="130" lengthAdjust="spacingAndGlyphs">Cabane Tipi</text>
<text x="1911.5" y="2206" text-anchor="middle" class="scr" font-size="35" fill="#1a1a1a" stroke="#fff" stroke-width="8" paint-order="stroke" stroke-linejoin="round" textLength="87" lengthAdjust="spacingAndGlyphs">Menthe</text>
<text x="853.5" y="1392" text-anchor="middle" class="scr" font-size="35" fill="#6b3f1a" textLength="217" lengthAdjust="spacingAndGlyphs" transform="rotate(4 853.5 1392)">Chemin de la Tombe</text>
<text x="919.5" y="1020" text-anchor="middle" class="scr" font-size="35" fill="#6b3f1a" textLength="205" lengthAdjust="spacingAndGlyphs" transform="rotate(-2 919.5 1020)">Chemin de l'écluse</text>
<text x="2283.0" y="972" text-anchor="middle" class="scr" font-size="35" fill="#6b3f1a" textLength="202" lengthAdjust="spacingAndGlyphs" transform="rotate(-2 2283.0 972)">Chemin de l'écluse</text>
<text x="2692.0" y="1483" text-anchor="middle" class="scr" font-size="35" fill="#6b3f1a" textLength="220" lengthAdjust="spacingAndGlyphs" transform="rotate(1 2692.0 1483)">Chemin de la Tombe</text>
<text x="3301" y="1500" text-anchor="middle" class="scr" font-size="32" fill="#6b3f1a" transform="rotate(-82 3301 1500)" textLength="200" lengthAdjust="spacingAndGlyphs">Route de Vinneuf</text>
<polyline points="1620,1395 1640,1378 1660,1398 1675,1382 1695,1402 1710,1385" fill="none" stroke="#111" stroke-width="7"/>
<polyline points="1610,1450 1630,1432 1650,1452 1665,1436 1685,1456 1700,1440" fill="none" stroke="#111" stroke-width="7"/>
<g fill="none" stroke="#1a1a1a"><circle cx="2575" cy="1939" r="70" stroke-width="2"/><circle cx="2575" cy="1939" r="53" stroke-width="4"/><circle cx="2575" cy="1939" r="40" stroke-width="2"/><circle cx="2575" cy="1939" r="26" stroke-width="3"/></g>
<g transform="translate(2575,1939) rotate(15)" fill="#1a1a1a"><path d="M0,-78 L9,-9 L78,0 L9,9 L0,78 L-9,9 L-78,0 L-9,-9 Z"/><path d="M0,-45 L5,-5 L45,0 L5,5 L0,45 L-5,5 L-45,0 L-5,-5 Z" transform="rotate(45)"/></g>
<g font-family="Liberation Serif" font-weight="bold" font-size="26" fill="#1a1a1a"><text x="2597" y="1866">N</text><text x="2544" y="2024">S</text><text x="2477" y="1926">W</text><text x="2650" y="1968">E</text></g>
<g><rect x="3207" y="1785" width="15" height="140" fill="#f3cf94"/><rect x="3313" y="1785" width="17" height="140" fill="#f3cf94"/><rect x="3195" y="1793" width="150" height="73" fill="#f7dcaa"/><path d="M3185,1934 q10,-14 22,-8 q8,-16 14,0 q12,-8 22,8 Z M3285,1934 q10,-14 22,-8 q8,-16 14,0 q12,-8 22,8 Z" fill="#1f8a3a"/><circle cx="3222" cy="1829" r="22" fill="none" stroke="#222" stroke-width="2"/><path d="M3200,1835 q22,8 44,-6 a22 22 0 0 1 -44,6" fill="#1a8a6a"/><text x="3252" y="1826" font-family="Liberation Sans" font-size="18" fill="#222">Étangs</text><text x="3252" y="1852" font-family="Liberation Sans" font-size="20" fill="#222">Bassée</text></g>
<polyline points="2364,245 2383,226 2401,248 2415,230 2430,254 2448,229 2463,252" fill="none" stroke="#222" stroke-width="9" stroke-linejoin="miter"/>
<text x="2527.0" y="251" text-anchor="middle" class="scr" font-size="34" fill="#1a1a1a" textLength="82" lengthAdjust="spacingAndGlyphs">Portail</text>
<circle cx="2693" cy="236" r="27" fill="#f1d97a"/><circle cx="2693" cy="236" r="18.9" fill="#fff"/><path d="M2693,236 L2711.6,239.3 A18.9 18.9 0 0 1 2703.8,251.5 Z" fill="#e8385e"/><path d="M2693,236 L2689.7,254.6 A18.9 18.9 0 0 1 2677.5,246.8 Z" fill="#e8385e"/><path d="M2693,236 L2674.4,232.7 A18.9 18.9 0 0 1 2682.2,220.5 Z" fill="#e8385e"/><path d="M2693,236 L2696.3,217.4 A18.9 18.9 0 0 1 2708.5,225.2 Z" fill="#e8385e"/>
<text x="2768.0" y="251" text-anchor="middle" class="scr" font-size="34" fill="#1a1a1a" textLength="66" lengthAdjust="spacingAndGlyphs">Plages</text>
<g transform="translate(2924,238) scale(0.62)"><path d="M-50,-6 L-26,-38 L36,-30 L54,-2 L40,10 L-40,4 Z" fill="#fff"/><path d="M-44,-6 L-24,-34 L34,-26 L48,-4 L36,6 L-38,2 Z" fill="#f58a2a"/><path d="M-40,2 L36,6 L36,40 L-40,36 Z" fill="#f2f2ea" stroke="#fff" stroke-width="3"/><path d="M36,6 L48,-4 L48,30 L36,40 Z" fill="#d8d8cc"/><rect x="-30" y="12" width="12" height="12" fill="#555"/><rect x="-10" y="12" width="12" height="24" fill="#555"/><rect x="12" y="12" width="12" height="10" fill="#555"/></g>
<text x="3015.5" y="251" text-anchor="middle" class="scr" font-size="34" fill="#1a1a1a" textLength="109" lengthAdjust="spacingAndGlyphs">Réception</text>
<circle cx="3144" cy="241" r="37" fill="#fff"/><circle cx="3144" cy="241" r="29.5" fill="#1ddff0"/><path d="M3139,225 C3132,235 3128,241 3128,247 A11 11 0 0 0 3150,247 C3150,241 3146,235 3139,225 Z M3151,223 C3146,231 3145,235 3146,239 M3151,223 C3156,231 3160,237 3160,242 A8 8 0 0 1 3150,249" fill="none" stroke="#111" stroke-width="2.5"/>
<text x="3287.0" y="242" text-anchor="middle" class="scr" font-size="32" fill="#1a1a1a" textLength="188" lengthAdjust="spacingAndGlyphs">Point eau potable</text>
<text x="3228.5" y="270" text-anchor="middle" class="scr" font-size="30" fill="#1a1a1a" textLength="71" lengthAdjust="spacingAndGlyphs">24/24</text>
<circle cx="2394" cy="323" r="27" fill="#f5a400"/><circle cx="2398" cy="315" r="10.8" fill="none" stroke="#fff" stroke-width="2.5"/><circle cx="2387" cy="328" r="10.8" fill="none" stroke="#fff" stroke-width="2.5"/><circle cx="2407" cy="336" r="3.7800000000000002" fill="none" stroke="#fff" stroke-width="2"/>
<text x="2486.5" y="335" text-anchor="middle" class="scr" font-size="34" fill="#1a1a1a" textLength="101" lengthAdjust="spacingAndGlyphs">Pétanque</text>
<circle cx="2654" cy="328" r="27" fill="#17a050"/><path d="M2636,348 L2636,324 Q2636,318 2642,316 L2642,306 L2648,306 L2648,316 Q2654,318 2654,324 L2654,348 Z" fill="none" stroke="#111" stroke-width="2.5"/><circle cx="2664" cy="336" r="11" fill="none" stroke="#111" stroke-width="2.5"/>
<text x="2779.5" y="336" text-anchor="middle" class="scr" font-size="32" fill="#1a1a1a" textLength="171" lengthAdjust="spacingAndGlyphs">dépot des verres</text>
<g transform="translate(2933,330) scale(1.0)"><path d="M0,20 C-10,12 -26,2 -26,-8 C-26,-18 -18,-22 -12,-22 C-6,-22 -2,-18 0,-14 C2,-18 6,-22 12,-22 C18,-22 26,-18 26,-8 C26,2 10,12 0,20 Z" fill="#3db82c"/><path d="M3,-16 L-7,2 L-1,2 L-4,14 L7,-4 L1,-4 Z" fill="#fff"/></g>
<text x="3043.0" y="336" text-anchor="middle" class="scr" font-size="34" fill="#1a1a1a" textLength="146" lengthAdjust="spacingAndGlyphs">Defibrilateur</text>
<rect x="2366.5" y="402.0" width="46" height="46" rx="6" fill="#30288a"/><text x="2388.5" y="437" text-anchor="middle" font-family="Liberation Sans" font-weight="bold" font-size="34" fill="#fff">P</text>
<text x="2470.5" y="434" text-anchor="middle" class="scr" font-size="34" fill="#1a1a1a" textLength="93" lengthAdjust="spacingAndGlyphs">Parking</text>
<rect x="2637.5" y="401" width="50" height="50" fill="#30288a"/><circle cx="2654.5" cy="415" r="4.5" fill="#fff"/><circle cx="2670.5" cy="415" r="4.5" fill="#fff"/><path d="M2649.5,421 h10 v17 h-3 v4 h-4 v-4 h-3 Z M2665.5,421 h10 v10 l2,7 h-4 v4 h-6 v-4 h-4 l2,-7 Z" fill="#fff"/>
<text x="2722.0" y="434" text-anchor="middle" class="scr" font-size="34" fill="#1a1a1a" textLength="58" lengthAdjust="spacingAndGlyphs">WC</text>
<rect x="2877.5" y="401.5" width="96" height="48" fill="#30288a"/><circle cx="2893.5" cy="414.5" r="4.5" fill="#fff"/><circle cx="2909.5" cy="414.5" r="4.5" fill="#fff"/><path d="M2888.5,420.5 h10 v17 h-3 v4 h-4 v-4 h-3 Z M2904.5,420.5 h10 v10 l2,7 h-4 v4 h-6 v-4 h-4 l2,-7 Z" fill="#fff"/><path d="M2941.5,441.5 L2941.5,417.5 Q2941.5,409.5 2949.5,409.5 L2953.5,411.5" fill="none" stroke="#fff" stroke-width="4"/><path d="M2949.5,417.5 Q2957.5,407.5 2963.5,421.5 Z" fill="#fff"/><g fill="#fff"><circle cx="2955.5" cy="427.5" r="1.6"/><circle cx="2961.5" cy="429.5" r="1.6"/><circle cx="2957.5" cy="434.5" r="1.6"/><circle cx="2963.5" cy="436.5" r="1.6"/></g>
<text x="3046.0" y="434" text-anchor="middle" class="scr" font-size="34" fill="#1a1a1a" textLength="116" lengthAdjust="spacingAndGlyphs">Sanitaires</text>
<rect x="2367.0" y="496.0" width="47" height="47" fill="#ef7f0e"/><path transform="translate(2390.5,519.5)" d="M-15,1 L-11,-4 C-8,-6 -5,-5 -3,-2 L-6,-8 L-3,-13 L1,-5 L13,-14 C14,-4 10,3 4,6 L8,12 L1,13 C-5,11 -9,6 -11,2 Z" fill="#fff"/>
<text x="2459.0" y="527" text-anchor="middle" class="scr" font-size="34" fill="#1a1a1a" textLength="82" lengthAdjust="spacingAndGlyphs">Volière</text>
<rect x="2520.0" y="496.0" width="47" height="47" fill="#ef7f0e"/><path d="M2533.5,515.5 q0,12 12,10 q10,-2 8,-14 l4,-2 l-4,-2 q-4,-4 -8,0 q4,8 -4,10 q-6,0 -8,-2 Z M2539.5,525.5 v8 M2549.5,525.5 v8 M2531.5,534.5 h24" fill="none" stroke="#fff" stroke-width="2.5"/>
<text x="2642.0" y="527" text-anchor="middle" class="scr" font-size="34" fill="#1a1a1a" textLength="134" lengthAdjust="spacingAndGlyphs">Aire de jeux</text>
<rect x="2741.0" y="496.0" width="47" height="47" fill="#ef7f0e"/><g fill="#fff"><circle cx="2756.5" cy="509.5" r="4"/><circle cx="2762.5" cy="507.5" r="4"/><circle cx="2768.5" cy="506.5" r="4"/><circle cx="2758.5" cy="515.5" r="4"/><circle cx="2764.5" cy="514.5" r="4"/><circle cx="2770.5" cy="512.5" r="4"/><circle cx="2759.5" cy="521.5" r="4"/><circle cx="2765.5" cy="520.5" r="4"/><circle cx="2761.5" cy="527.5" r="4"/><circle cx="2767.5" cy="526.5" r="4"/><circle cx="2763.5" cy="533.5" r="4"/><path d="M2766.5,505.5 l4,-7 l4,3 Z"/></g>
<text x="2831.0" y="527" text-anchor="middle" class="scr" font-size="34" fill="#1a1a1a" textLength="76" lengthAdjust="spacingAndGlyphs">Vignes</text>
<rect x="2892.5" y="496.0" width="47" height="47" fill="#ef7f0e"/><circle cx="2915" cy="523.5" r="13" fill="#fff"/><path d="M2918,510.5 q6,-8 14,-6 q-4,8 -14,6" fill="#fff"/>
<text x="2984.5" y="527" text-anchor="middle" class="scr" font-size="34" fill="#1a1a1a" textLength="77" lengthAdjust="spacingAndGlyphs">Verger</text>
<rect x="3065.0" y="496.0" width="47" height="47" fill="#ef7f0e"/><path d="M3082.5,513.5 L3094.5,513.5 L3088.5,537.5 Z" fill="#fff"/><path d="M3088.5,511.5 l-5,-10 M3088.5,511.5 l5,-10 M3088.5,511.5 v-12" stroke="#fff" stroke-width="3"/>
<text x="3161.5" y="527" text-anchor="middle" class="scr" font-size="34" fill="#1a1a1a" textLength="87" lengthAdjust="spacingAndGlyphs">Potager</text>
<rect x="3241.0" y="496.0" width="47" height="47" fill="#ef7f0e"/><path d="M3248.5,519.5 L3280.5,519.5 L3276.5,527.5 L3252.5,527.5 Z M3254.5,505.5 L3272.5,523.5 M3276.5,505.5 L3258.5,523.5 M3246.5,531.5 q4,-3 8,0 q4,3 8,0 q4,-3 8,0 q4,3 8,0" fill="none" stroke="#fff" stroke-width="2.5"/>
<text x="3333.5" y="527" text-anchor="middle" class="scr" font-size="34" fill="#1a1a1a" textLength="83" lengthAdjust="spacingAndGlyphs">Barque</text></svg></body></html>
